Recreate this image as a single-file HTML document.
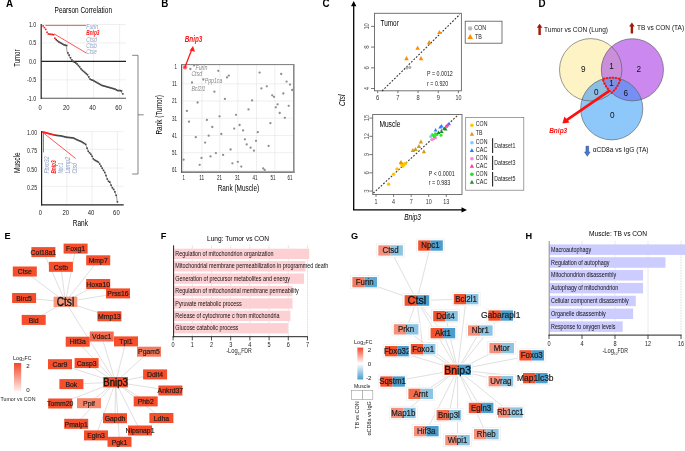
<!DOCTYPE html>
<html><head><meta charset="utf-8"><title>Figure</title><style>
html,body{margin:0;padding:0;background:#fff;width:685px;height:451px;overflow:hidden}
svg{display:block;font-family:"Liberation Sans",sans-serif;will-change:transform}
</style></head><body>
<svg width="685" height="451" viewBox="0 0 685 451">
<rect width="685" height="451" fill="#fff"/>
<text x="5.9" y="6.9" font-size="10.5" font-weight="bold" textLength="7.08" lengthAdjust="spacingAndGlyphs">A</text>
<text x="161.2" y="6.9" font-size="10.5" font-weight="bold" textLength="7.08" lengthAdjust="spacingAndGlyphs">B</text>
<text x="322.6" y="6.8" font-size="10.5" font-weight="bold" textLength="7.08" lengthAdjust="spacingAndGlyphs">C</text>
<text x="538.5" y="6.9" font-size="10.5" font-weight="bold" textLength="7.08" lengthAdjust="spacingAndGlyphs">D</text>
<text x="4.6" y="239" font-size="9.2" font-weight="bold">E</text>
<text x="160.8" y="239.1" font-size="9.2" font-weight="bold">F</text>
<text x="350.9" y="238.9" font-size="9.2" font-weight="bold">G</text>
<text x="525.6" y="238.9" font-size="9.2" font-weight="bold">H</text>
<text x="54.6" y="12.9" font-size="8.5" textLength="57.4" lengthAdjust="spacingAndGlyphs">Pearson Correlation</text>
<line x1="67.34" y1="24.5" x2="67.34" y2="98.3" stroke="#e4e4e4" stroke-width="0.6"/>
<line x1="93.48" y1="24.5" x2="93.48" y2="98.3" stroke="#e4e4e4" stroke-width="0.6"/>
<line x1="119.62" y1="24.5" x2="119.62" y2="98.3" stroke="#e4e4e4" stroke-width="0.6"/>
<line x1="41.2" y1="24.5" x2="126" y2="24.5" stroke="#e4e4e4" stroke-width="0.6"/>
<line x1="41.2" y1="42.95" x2="126" y2="42.95" stroke="#e4e4e4" stroke-width="0.6"/>
<line x1="41.2" y1="79.85" x2="126" y2="79.85" stroke="#e4e4e4" stroke-width="0.6"/>
<line x1="41.2" y1="61.4" x2="126" y2="61.4" stroke="#222" stroke-width="1.2"/>
<line x1="41.2" y1="98.3" x2="126" y2="98.3" stroke="#555" stroke-width="1.1"/>
<line x1="41.2" y1="24.1" x2="41.2" y2="98.9" stroke="#222" stroke-width="1.2"/>
<text x="36.3" y="26.9" font-size="6.8" text-anchor="end" fill="#222" textLength="7.4" lengthAdjust="spacingAndGlyphs">1.0</text>
<text x="36.3" y="45.35" font-size="6.8" text-anchor="end" fill="#222" textLength="7.4" lengthAdjust="spacingAndGlyphs">0.5</text>
<text x="36.3" y="63.8" font-size="6.8" text-anchor="end" fill="#222" textLength="7.4" lengthAdjust="spacingAndGlyphs">0.0</text>
<text x="36.3" y="82.25" font-size="6.8" text-anchor="end" fill="#222" textLength="9.2" lengthAdjust="spacingAndGlyphs">-0.5</text>
<text x="36.3" y="100.7" font-size="6.8" text-anchor="end" fill="#222" textLength="9.2" lengthAdjust="spacingAndGlyphs">-1.0</text>
<text x="40.2" y="109.7" font-size="6.8" text-anchor="middle" fill="#222" textLength="3.2" lengthAdjust="spacingAndGlyphs">0</text>
<text x="66.34" y="109.7" font-size="6.8" text-anchor="middle" fill="#222" textLength="6.6" lengthAdjust="spacingAndGlyphs">20</text>
<text x="92.48" y="109.7" font-size="6.8" text-anchor="middle" fill="#222" textLength="6.6" lengthAdjust="spacingAndGlyphs">40</text>
<text x="118.62" y="109.7" font-size="6.8" text-anchor="middle" fill="#222" textLength="6.6" lengthAdjust="spacingAndGlyphs">60</text>
<text x="19.8" y="58.2" font-size="8.6" text-anchor="middle" textLength="17.2" lengthAdjust="spacingAndGlyphs" transform="rotate(-90 19.8 58.2)">Tumor</text>
<path d="M54.27 38.15L55.58 39.63L56.88 40.74L58.19 41.84L59.5 42.58L60.81 43.32L62.11 44.06L63.42 44.8L64.73 45.16L66.03 45.53L67.34 52.91L68.65 55.13L69.95 57.71L71.26 59.92L72.57 61.4L73.88 62.14L75.18 62.88L76.49 63.98L77.8 65.46L79.1 66.94L80.41 68.78L81.72 70.26L83.02 71.36L84.33 72.47L85.64 73.58L86.94 74.68L88.25 76.9L89.56 79.11L90.87 79.85L92.17 80.22L93.48 80.96L94.79 81.69L96.09 82.43L97.4 83.17L98.71 83.91L100.02 84.65L101.32 85.38L102.63 85.75L103.94 86.12L105.24 86.49L106.55 86.86L107.86 87.23L109.16 87.6L110.47 87.97L111.78 88.34L113.08 88.71L114.39 89.07L115.7 89.81L117.01 90.55L118.31 90.55L119.62 90.55L120.93 90.92L122.23 93.87" fill="none" stroke="#666" stroke-width="0.6"/>
<rect x="42.31" y="25.18" width="1.6" height="1.6" fill="#ff1a1a"/>
<rect x="43.61" y="26.8" width="1.6" height="1.6" fill="#ff1a1a"/>
<rect x="44.92" y="28.61" width="1.6" height="1.6" fill="#ff1a1a"/>
<rect x="46.23" y="31.45" width="1.6" height="1.6" fill="#ff1a1a"/>
<rect x="47.54" y="33.11" width="1.6" height="1.6" fill="#ff1a1a"/>
<rect x="48.84" y="33.48" width="1.6" height="1.6" fill="#ff1a1a"/>
<rect x="50.15" y="33.48" width="1.6" height="1.6" fill="#ff1a1a"/>
<rect x="51.46" y="33.66" width="1.6" height="1.6" fill="#ff1a1a"/>
<rect x="52.76" y="34.03" width="1.6" height="1.6" fill="#ff1a1a"/>
<rect x="54.07" y="37.35" width="1.6" height="1.6" fill="#ff1a1a"/>
<rect x="55.38" y="38.83" width="1.6" height="1.6" fill="#444"/>
<rect x="56.68" y="39.94" width="1.6" height="1.6" fill="#444"/>
<rect x="57.99" y="41.04" width="1.6" height="1.6" fill="#444"/>
<rect x="59.3" y="41.78" width="1.6" height="1.6" fill="#444"/>
<rect x="60.61" y="42.52" width="1.6" height="1.6" fill="#444"/>
<rect x="61.91" y="43.26" width="1.6" height="1.6" fill="#444"/>
<rect x="63.22" y="44" width="1.6" height="1.6" fill="#444"/>
<rect x="64.53" y="44.36" width="1.6" height="1.6" fill="#444"/>
<rect x="65.83" y="44.73" width="1.6" height="1.6" fill="#444"/>
<rect x="67.14" y="52.11" width="1.6" height="1.6" fill="#444"/>
<rect x="68.45" y="54.33" width="1.6" height="1.6" fill="#444"/>
<rect x="69.75" y="56.91" width="1.6" height="1.6" fill="#444"/>
<rect x="71.06" y="59.12" width="1.6" height="1.6" fill="#444"/>
<rect x="72.37" y="60.6" width="1.6" height="1.6" fill="#444"/>
<rect x="73.67" y="61.34" width="1.6" height="1.6" fill="#444"/>
<rect x="74.98" y="62.08" width="1.6" height="1.6" fill="#444"/>
<rect x="76.29" y="63.18" width="1.6" height="1.6" fill="#444"/>
<rect x="77.6" y="64.66" width="1.6" height="1.6" fill="#444"/>
<rect x="78.9" y="66.14" width="1.6" height="1.6" fill="#444"/>
<rect x="80.21" y="67.98" width="1.6" height="1.6" fill="#444"/>
<rect x="81.52" y="69.46" width="1.6" height="1.6" fill="#444"/>
<rect x="82.82" y="70.56" width="1.6" height="1.6" fill="#444"/>
<rect x="84.13" y="71.67" width="1.6" height="1.6" fill="#444"/>
<rect x="85.44" y="72.78" width="1.6" height="1.6" fill="#444"/>
<rect x="86.74" y="73.88" width="1.6" height="1.6" fill="#444"/>
<rect x="88.05" y="76.1" width="1.6" height="1.6" fill="#444"/>
<rect x="89.36" y="78.31" width="1.6" height="1.6" fill="#444"/>
<rect x="90.67" y="79.05" width="1.6" height="1.6" fill="#444"/>
<rect x="91.97" y="79.42" width="1.6" height="1.6" fill="#444"/>
<rect x="93.28" y="80.16" width="1.6" height="1.6" fill="#444"/>
<rect x="94.59" y="80.89" width="1.6" height="1.6" fill="#444"/>
<rect x="95.89" y="81.63" width="1.6" height="1.6" fill="#444"/>
<rect x="97.2" y="82.37" width="1.6" height="1.6" fill="#444"/>
<rect x="98.51" y="83.11" width="1.6" height="1.6" fill="#444"/>
<rect x="99.81" y="83.85" width="1.6" height="1.6" fill="#444"/>
<rect x="101.12" y="84.58" width="1.6" height="1.6" fill="#444"/>
<rect x="102.43" y="84.95" width="1.6" height="1.6" fill="#444"/>
<rect x="103.74" y="85.32" width="1.6" height="1.6" fill="#444"/>
<rect x="105.04" y="85.69" width="1.6" height="1.6" fill="#444"/>
<rect x="106.35" y="86.06" width="1.6" height="1.6" fill="#444"/>
<rect x="107.66" y="86.43" width="1.6" height="1.6" fill="#444"/>
<rect x="108.96" y="86.8" width="1.6" height="1.6" fill="#444"/>
<rect x="110.27" y="87.17" width="1.6" height="1.6" fill="#444"/>
<rect x="111.58" y="87.54" width="1.6" height="1.6" fill="#444"/>
<rect x="112.88" y="87.91" width="1.6" height="1.6" fill="#444"/>
<rect x="114.19" y="88.27" width="1.6" height="1.6" fill="#444"/>
<rect x="115.5" y="89.01" width="1.6" height="1.6" fill="#444"/>
<rect x="116.81" y="89.75" width="1.6" height="1.6" fill="#444"/>
<rect x="118.11" y="89.75" width="1.6" height="1.6" fill="#444"/>
<rect x="119.42" y="89.75" width="1.6" height="1.6" fill="#444"/>
<rect x="120.73" y="90.12" width="1.6" height="1.6" fill="#444"/>
<rect x="122.03" y="93.07" width="1.6" height="1.6" fill="#444"/>
<line x1="45.4" y1="25.4" x2="86.3" y2="25.4" stroke="#ff2a2a" stroke-width="0.8"/>
<line x1="54" y1="33.8" x2="86.3" y2="53" stroke="#ff2a2a" stroke-width="0.8"/>
<text x="86.3" y="29.3" font-size="7" fill="#8da0c8" font-style="italic" textLength="11.7" lengthAdjust="spacingAndGlyphs">Furin</text>
<text x="86.3" y="35.4" font-size="7" fill="#ff1a1a" font-weight="bold" font-style="italic" textLength="13.1" lengthAdjust="spacingAndGlyphs">Bnip3</text>
<text x="86.3" y="41.5" font-size="7" fill="#8da0c8" font-style="italic" textLength="10.4" lengthAdjust="spacingAndGlyphs">Ctsd</text>
<text x="86.3" y="47.6" font-size="7" fill="#8da0c8" font-style="italic" textLength="10.4" lengthAdjust="spacingAndGlyphs">Ctsb</text>
<text x="86.3" y="53.8" font-size="7" fill="#8da0c8" font-style="italic" textLength="10.4" lengthAdjust="spacingAndGlyphs">Ctse</text>
<line x1="66.74" y1="131.7" x2="66.74" y2="204.8" stroke="#e4e4e4" stroke-width="0.6"/>
<line x1="92.08" y1="131.7" x2="92.08" y2="204.8" stroke="#e4e4e4" stroke-width="0.6"/>
<line x1="117.42" y1="131.7" x2="117.42" y2="204.8" stroke="#e4e4e4" stroke-width="0.6"/>
<line x1="41.4" y1="131.7" x2="123.7" y2="131.7" stroke="#e4e4e4" stroke-width="0.6"/>
<line x1="41.4" y1="149.3" x2="123.7" y2="149.3" stroke="#e4e4e4" stroke-width="0.6"/>
<line x1="41.4" y1="168" x2="123.7" y2="168" stroke="#e4e4e4" stroke-width="0.6"/>
<line x1="41.4" y1="186.3" x2="123.7" y2="186.3" stroke="#e4e4e4" stroke-width="0.6"/>
<line x1="41.4" y1="204.8" x2="123.7" y2="204.8" stroke="#222" stroke-width="1.2"/>
<line x1="41.6" y1="131.1" x2="41.6" y2="205.4" stroke="#222" stroke-width="1.2"/>
<text x="37" y="135.4" font-size="6.8" text-anchor="end" fill="#222" textLength="10" lengthAdjust="spacingAndGlyphs">1.00</text>
<text x="37" y="153" font-size="6.8" text-anchor="end" fill="#222" textLength="10" lengthAdjust="spacingAndGlyphs">0.75</text>
<text x="37" y="171.7" font-size="6.8" text-anchor="end" fill="#222" textLength="10" lengthAdjust="spacingAndGlyphs">0.50</text>
<text x="37" y="190" font-size="6.8" text-anchor="end" fill="#222" textLength="10" lengthAdjust="spacingAndGlyphs">0.25</text>
<text x="40.4" y="215.2" font-size="6.8" text-anchor="middle" fill="#222" textLength="3.2" lengthAdjust="spacingAndGlyphs">0</text>
<text x="65.74" y="215.2" font-size="6.8" text-anchor="middle" fill="#222" textLength="6.6" lengthAdjust="spacingAndGlyphs">20</text>
<text x="91.08" y="215.2" font-size="6.8" text-anchor="middle" fill="#222" textLength="6.6" lengthAdjust="spacingAndGlyphs">40</text>
<text x="116.42" y="215.2" font-size="6.8" text-anchor="middle" fill="#222" textLength="6.6" lengthAdjust="spacingAndGlyphs">60</text>
<text x="80.4" y="225.6" font-size="8.3" text-anchor="middle" textLength="15.2" lengthAdjust="spacingAndGlyphs">Rank</text>
<text x="19.8" y="162.7" font-size="8.6" text-anchor="middle" textLength="20.8" lengthAdjust="spacingAndGlyphs" transform="rotate(-90 19.8 162.7)">Muscle</text>
<path d="M54.07 134.93L55.34 135.26L56.6 135.41L57.87 135.54L59.14 135.66L60.41 135.79L61.67 136.08L62.94 136.38L64.21 136.68L65.47 136.98L66.74 137.29L68.01 137.41L69.27 137.53L70.54 137.65L71.81 137.77L73.07 137.89L74.34 138.47L75.61 139.1L76.88 139.74L78.14 140.3L79.41 140.81L80.68 141.33L81.94 141.92L83.21 142.72L84.48 143.53L85.75 144.43L87.01 148.18L88.28 151.25L89.55 152.77L90.81 154.28L92.08 156.29L93.35 158.88L94.61 159.98L95.88 160.7L97.15 161.42L98.41 162.14L99.68 163.98L100.95 166.14L102.22 168.22L103.48 170.33L104.75 172.5L106.02 175.6L107.28 179.05L108.55 181.35L109.82 182.16L111.08 185.18L112.35 187.76L113.62 189.37L114.89 191.88L116.15 195.33L117.42 201.9" fill="none" stroke="#666" stroke-width="0.6"/>
<path d="M42.67 132L43.93 132.32L45.2 132.64L46.47 132.97L47.73 133.3L49 133.62L50.27 133.95L51.54 134.28L52.8 134.6L54.07 134.93" fill="none" stroke="#ff1a1a" stroke-width="1.2"/>
<rect x="41.87" y="131.2" width="1.6" height="1.6" fill="#ff1a1a"/>
<rect x="43.13" y="131.52" width="1.6" height="1.6" fill="#ff1a1a"/>
<rect x="44.4" y="131.84" width="1.6" height="1.6" fill="#ff1a1a"/>
<rect x="45.67" y="132.17" width="1.6" height="1.6" fill="#ff1a1a"/>
<rect x="46.94" y="132.5" width="1.6" height="1.6" fill="#ff1a1a"/>
<rect x="48.2" y="132.82" width="1.6" height="1.6" fill="#ff1a1a"/>
<rect x="49.47" y="133.15" width="1.6" height="1.6" fill="#ff1a1a"/>
<rect x="50.74" y="133.48" width="1.6" height="1.6" fill="#ff1a1a"/>
<rect x="52" y="133.8" width="1.6" height="1.6" fill="#ff1a1a"/>
<rect x="53.27" y="134.13" width="1.6" height="1.6" fill="#ff1a1a"/>
<rect x="54.54" y="134.46" width="1.6" height="1.6" fill="#444"/>
<rect x="55.8" y="134.61" width="1.6" height="1.6" fill="#444"/>
<rect x="57.07" y="134.74" width="1.6" height="1.6" fill="#444"/>
<rect x="58.34" y="134.86" width="1.6" height="1.6" fill="#444"/>
<rect x="59.61" y="134.99" width="1.6" height="1.6" fill="#444"/>
<rect x="60.87" y="135.28" width="1.6" height="1.6" fill="#444"/>
<rect x="62.14" y="135.58" width="1.6" height="1.6" fill="#444"/>
<rect x="63.41" y="135.88" width="1.6" height="1.6" fill="#444"/>
<rect x="64.67" y="136.18" width="1.6" height="1.6" fill="#444"/>
<rect x="65.94" y="136.49" width="1.6" height="1.6" fill="#444"/>
<rect x="67.21" y="136.61" width="1.6" height="1.6" fill="#444"/>
<rect x="68.47" y="136.73" width="1.6" height="1.6" fill="#444"/>
<rect x="69.74" y="136.85" width="1.6" height="1.6" fill="#444"/>
<rect x="71.01" y="136.97" width="1.6" height="1.6" fill="#444"/>
<rect x="72.27" y="137.09" width="1.6" height="1.6" fill="#444"/>
<rect x="73.54" y="137.67" width="1.6" height="1.6" fill="#444"/>
<rect x="74.81" y="138.3" width="1.6" height="1.6" fill="#444"/>
<rect x="76.08" y="138.94" width="1.6" height="1.6" fill="#444"/>
<rect x="77.34" y="139.5" width="1.6" height="1.6" fill="#444"/>
<rect x="78.61" y="140.01" width="1.6" height="1.6" fill="#444"/>
<rect x="79.88" y="140.53" width="1.6" height="1.6" fill="#444"/>
<rect x="81.14" y="141.12" width="1.6" height="1.6" fill="#444"/>
<rect x="82.41" y="141.92" width="1.6" height="1.6" fill="#444"/>
<rect x="83.68" y="142.73" width="1.6" height="1.6" fill="#444"/>
<rect x="84.95" y="143.63" width="1.6" height="1.6" fill="#444"/>
<rect x="86.21" y="147.38" width="1.6" height="1.6" fill="#444"/>
<rect x="87.48" y="150.45" width="1.6" height="1.6" fill="#444"/>
<rect x="88.75" y="151.97" width="1.6" height="1.6" fill="#444"/>
<rect x="90.01" y="153.48" width="1.6" height="1.6" fill="#444"/>
<rect x="91.28" y="155.49" width="1.6" height="1.6" fill="#444"/>
<rect x="92.55" y="158.08" width="1.6" height="1.6" fill="#444"/>
<rect x="93.81" y="159.18" width="1.6" height="1.6" fill="#444"/>
<rect x="95.08" y="159.9" width="1.6" height="1.6" fill="#444"/>
<rect x="96.35" y="160.62" width="1.6" height="1.6" fill="#444"/>
<rect x="97.61" y="161.34" width="1.6" height="1.6" fill="#444"/>
<rect x="98.88" y="163.18" width="1.6" height="1.6" fill="#444"/>
<rect x="100.15" y="165.34" width="1.6" height="1.6" fill="#444"/>
<rect x="101.42" y="167.42" width="1.6" height="1.6" fill="#444"/>
<rect x="102.68" y="169.53" width="1.6" height="1.6" fill="#444"/>
<rect x="103.95" y="171.7" width="1.6" height="1.6" fill="#444"/>
<rect x="105.22" y="174.8" width="1.6" height="1.6" fill="#444"/>
<rect x="106.48" y="178.25" width="1.6" height="1.6" fill="#444"/>
<rect x="107.75" y="180.55" width="1.6" height="1.6" fill="#444"/>
<rect x="109.02" y="181.36" width="1.6" height="1.6" fill="#444"/>
<rect x="110.28" y="184.38" width="1.6" height="1.6" fill="#444"/>
<rect x="111.55" y="186.96" width="1.6" height="1.6" fill="#444"/>
<rect x="112.82" y="188.57" width="1.6" height="1.6" fill="#444"/>
<rect x="114.09" y="191.08" width="1.6" height="1.6" fill="#444"/>
<rect x="115.35" y="194.53" width="1.6" height="1.6" fill="#444"/>
<rect x="116.62" y="201.1" width="1.6" height="1.6" fill="#444"/>
<line x1="43.5" y1="133" x2="43.5" y2="152.4" stroke="#ff2a2a" stroke-width="0.8"/>
<line x1="43" y1="132.6" x2="75.7" y2="158.5" stroke="#ff2a2a" stroke-width="0.8"/>
<text x="48.9" y="173.6" font-size="7" fill="#8da0c8" font-style="italic" textLength="17.2" lengthAdjust="spacingAndGlyphs" transform="rotate(-90 48.9 173.6)">Fbxo32</text>
<text x="55.8" y="173.6" font-size="7" fill="#ff1a1a" font-weight="bold" font-style="italic" textLength="13.3" lengthAdjust="spacingAndGlyphs" transform="rotate(-90 55.8 173.6)">Bnip3</text>
<text x="63" y="173.6" font-size="7" fill="#8da0c8" font-style="italic" textLength="11.1" lengthAdjust="spacingAndGlyphs" transform="rotate(-90 63 173.6)">Npc1</text>
<text x="70.3" y="173.6" font-size="7" fill="#8da0c8" font-style="italic" textLength="16.6" lengthAdjust="spacingAndGlyphs" transform="rotate(-90 70.3 173.6)">Lamp2</text>
<text x="77" y="173.6" font-size="7" fill="#8da0c8" font-style="italic" textLength="10.5" lengthAdjust="spacingAndGlyphs" transform="rotate(-90 77 173.6)">Ctsd</text>
<path d="M132.2 55.3H138V174H132.2M138 114.8H143.7" fill="none" stroke="#666" stroke-width="0.8"/>
<text x="162.4" y="114.8" font-size="8.2" text-anchor="middle" textLength="39.6" lengthAdjust="spacingAndGlyphs" transform="rotate(-90 162.4 114.8)">Rank (Tumor)</text>
<line x1="202" y1="64.5" x2="202" y2="171.7" stroke="#e4e4e4" stroke-width="0.6"/>
<line x1="219.8" y1="64.5" x2="219.8" y2="171.7" stroke="#e4e4e4" stroke-width="0.6"/>
<line x1="237.8" y1="64.5" x2="237.8" y2="171.7" stroke="#e4e4e4" stroke-width="0.6"/>
<line x1="256.5" y1="64.5" x2="256.5" y2="171.7" stroke="#e4e4e4" stroke-width="0.6"/>
<line x1="274.9" y1="64.5" x2="274.9" y2="171.7" stroke="#e4e4e4" stroke-width="0.6"/>
<line x1="181.5" y1="83.82" x2="294.3" y2="83.82" stroke="#e4e4e4" stroke-width="0.6"/>
<line x1="181.5" y1="101.04" x2="294.3" y2="101.04" stroke="#e4e4e4" stroke-width="0.6"/>
<line x1="181.5" y1="118.26" x2="294.3" y2="118.26" stroke="#e4e4e4" stroke-width="0.6"/>
<line x1="181.5" y1="135.48" x2="294.3" y2="135.48" stroke="#e4e4e4" stroke-width="0.6"/>
<line x1="181.5" y1="152.7" x2="294.3" y2="152.7" stroke="#e4e4e4" stroke-width="0.6"/>
<line x1="183.5" y1="64.5" x2="183.5" y2="171.7" stroke="#f0f0f0" stroke-width="0.8"/>
<line x1="181.5" y1="170.6" x2="294.3" y2="170.6" stroke="#f0f0f0" stroke-width="0.8"/>
<line x1="181.5" y1="64.6" x2="294.2" y2="64.6" stroke="#6a6a6a" stroke-width="0.9"/>
<line x1="181.6" y1="64.2" x2="181.6" y2="172.8" stroke="#606060" stroke-width="1.2"/>
<line x1="181" y1="172.2" x2="294.6" y2="172.2" stroke="#555" stroke-width="1.3"/>
<line x1="293.8" y1="64.2" x2="293.8" y2="172.8" stroke="#8a8a8a" stroke-width="1.6"/>
<text x="183.8" y="179.8" font-size="6.6" text-anchor="middle" fill="#222" textLength="2.4" lengthAdjust="spacingAndGlyphs">1</text>
<text x="177" y="68.9" font-size="6.6" text-anchor="end" fill="#222" textLength="2.4" lengthAdjust="spacingAndGlyphs">1</text>
<text x="201.7" y="179.8" font-size="6.6" text-anchor="middle" fill="#222" textLength="5" lengthAdjust="spacingAndGlyphs">11</text>
<text x="177" y="86.12" font-size="6.6" text-anchor="end" fill="#222" textLength="5" lengthAdjust="spacingAndGlyphs">11</text>
<text x="219.5" y="179.8" font-size="6.6" text-anchor="middle" fill="#222" textLength="5" lengthAdjust="spacingAndGlyphs">21</text>
<text x="177" y="103.34" font-size="6.6" text-anchor="end" fill="#222" textLength="5" lengthAdjust="spacingAndGlyphs">21</text>
<text x="237.6" y="179.8" font-size="6.6" text-anchor="middle" fill="#222" textLength="5" lengthAdjust="spacingAndGlyphs">31</text>
<text x="177" y="120.56" font-size="6.6" text-anchor="end" fill="#222" textLength="5" lengthAdjust="spacingAndGlyphs">31</text>
<text x="255.1" y="179.8" font-size="6.6" text-anchor="middle" fill="#222" textLength="5" lengthAdjust="spacingAndGlyphs">41</text>
<text x="177" y="137.78" font-size="6.6" text-anchor="end" fill="#222" textLength="5" lengthAdjust="spacingAndGlyphs">41</text>
<text x="273.1" y="179.8" font-size="6.6" text-anchor="middle" fill="#222" textLength="5" lengthAdjust="spacingAndGlyphs">51</text>
<text x="177" y="155" font-size="6.6" text-anchor="end" fill="#222" textLength="5" lengthAdjust="spacingAndGlyphs">51</text>
<text x="290.1" y="179.8" font-size="6.6" text-anchor="middle" fill="#222" textLength="5" lengthAdjust="spacingAndGlyphs">61</text>
<text x="177" y="172.22" font-size="6.6" text-anchor="end" fill="#222" textLength="5" lengthAdjust="spacingAndGlyphs">61</text>
<text x="238.4" y="190.6" font-size="8.2" text-anchor="middle" textLength="41.5" lengthAdjust="spacingAndGlyphs">Rank (Muscle)</text>
<circle cx="190.4" cy="69" r="1.15" fill="#8e8e8e"/>
<circle cx="194" cy="65.4" r="1.15" fill="#8e8e8e"/>
<circle cx="192" cy="82.5" r="1.15" fill="#8e8e8e"/>
<circle cx="203.3" cy="79.5" r="1.15" fill="#8e8e8e"/>
<circle cx="218.3" cy="70.8" r="1.15" fill="#8e8e8e"/>
<circle cx="227" cy="77.4" r="1.15" fill="#8e8e8e"/>
<circle cx="228.8" cy="75.6" r="1.15" fill="#8e8e8e"/>
<circle cx="259.6" cy="72.6" r="1.15" fill="#8e8e8e"/>
<circle cx="281.2" cy="74" r="1.15" fill="#8e8e8e"/>
<circle cx="286.6" cy="81.6" r="1.15" fill="#8e8e8e"/>
<circle cx="290" cy="84.6" r="1.15" fill="#8e8e8e"/>
<circle cx="292.2" cy="90" r="1.15" fill="#8e8e8e"/>
<circle cx="261.4" cy="88.4" r="1.15" fill="#8e8e8e"/>
<circle cx="266.8" cy="86.3" r="1.15" fill="#8e8e8e"/>
<circle cx="214.4" cy="91.7" r="1.15" fill="#8e8e8e"/>
<circle cx="283.3" cy="93.5" r="1.15" fill="#8e8e8e"/>
<circle cx="272.2" cy="95.3" r="1.15" fill="#8e8e8e"/>
<circle cx="274" cy="96.8" r="1.15" fill="#8e8e8e"/>
<circle cx="224.9" cy="98.9" r="1.15" fill="#8e8e8e"/>
<circle cx="252.1" cy="100.4" r="1.15" fill="#8e8e8e"/>
<circle cx="197.6" cy="102.5" r="1.15" fill="#8e8e8e"/>
<circle cx="277.6" cy="104.3" r="1.15" fill="#8e8e8e"/>
<circle cx="275.8" cy="107.3" r="1.15" fill="#8e8e8e"/>
<circle cx="288.7" cy="105.8" r="1.15" fill="#8e8e8e"/>
<circle cx="248.5" cy="109.4" r="1.15" fill="#8e8e8e"/>
<circle cx="186.9" cy="110.9" r="1.15" fill="#8e8e8e"/>
<circle cx="279.7" cy="113" r="1.15" fill="#8e8e8e"/>
<circle cx="236" cy="114.8" r="1.15" fill="#8e8e8e"/>
<circle cx="219.5" cy="116.3" r="1.15" fill="#8e8e8e"/>
<circle cx="284.8" cy="117.8" r="1.15" fill="#8e8e8e"/>
<circle cx="189" cy="121.7" r="1.15" fill="#8e8e8e"/>
<circle cx="206.9" cy="119.9" r="1.15" fill="#8e8e8e"/>
<circle cx="270.4" cy="123.2" r="1.15" fill="#8e8e8e"/>
<circle cx="239.6" cy="125" r="1.15" fill="#8e8e8e"/>
<circle cx="212.3" cy="127" r="1.15" fill="#8e8e8e"/>
<circle cx="234.2" cy="128.6" r="1.15" fill="#8e8e8e"/>
<circle cx="243.1" cy="130.4" r="1.15" fill="#8e8e8e"/>
<circle cx="221.3" cy="134" r="1.15" fill="#8e8e8e"/>
<circle cx="257.8" cy="132.2" r="1.15" fill="#8e8e8e"/>
<circle cx="208.7" cy="135.7" r="1.15" fill="#8e8e8e"/>
<circle cx="195.8" cy="137.2" r="1.15" fill="#8e8e8e"/>
<circle cx="244.9" cy="139.3" r="1.15" fill="#8e8e8e"/>
<circle cx="256" cy="140.8" r="1.15" fill="#8e8e8e"/>
<circle cx="205.1" cy="142.6" r="1.15" fill="#8e8e8e"/>
<circle cx="246.7" cy="144.4" r="1.15" fill="#8e8e8e"/>
<circle cx="268.6" cy="145.9" r="1.15" fill="#8e8e8e"/>
<circle cx="250.6" cy="147.7" r="1.15" fill="#8e8e8e"/>
<circle cx="253.9" cy="150.7" r="1.15" fill="#8e8e8e"/>
<circle cx="230.6" cy="149.5" r="1.15" fill="#8e8e8e"/>
<circle cx="215.9" cy="153.1" r="1.15" fill="#8e8e8e"/>
<circle cx="223.1" cy="154.9" r="1.15" fill="#8e8e8e"/>
<circle cx="201.5" cy="157.9" r="1.15" fill="#8e8e8e"/>
<circle cx="210.5" cy="156.4" r="1.15" fill="#8e8e8e"/>
<circle cx="183.6" cy="159.7" r="1.15" fill="#8e8e8e"/>
<circle cx="237.8" cy="161.8" r="1.15" fill="#8e8e8e"/>
<circle cx="232.4" cy="163.3" r="1.15" fill="#8e8e8e"/>
<circle cx="199.7" cy="164.8" r="1.15" fill="#8e8e8e"/>
<circle cx="241.3" cy="166.6" r="1.15" fill="#8e8e8e"/>
<circle cx="263.2" cy="168.4" r="1.15" fill="#8e8e8e"/>
<circle cx="264.7" cy="169.9" r="1.15" fill="#8e8e8e"/>
<circle cx="185" cy="67.3" r="2.4" fill="#ff9090"/>
<circle cx="185" cy="67.3" r="1.3" fill="#ff3030"/>
<text x="195.6" y="70.4" font-size="6.3" fill="#888" font-style="italic" textLength="11.77" lengthAdjust="spacingAndGlyphs">Furin</text>
<text x="191.4" y="76" font-size="6.3" fill="#888" font-style="italic" textLength="10.62" lengthAdjust="spacingAndGlyphs">Ctsd</text>
<text x="204.8" y="83.2" font-size="6.3" fill="#888" font-style="italic" textLength="17.52" lengthAdjust="spacingAndGlyphs">Ppp1ca</text>
<text x="191.4" y="91.2" font-size="6.3" fill="#888" font-style="italic" textLength="14.07" lengthAdjust="spacingAndGlyphs">Bcl2l1</text>
<line x1="185.2" y1="66.6" x2="191.4" y2="50.6" stroke="#ff1a1a" stroke-width="1.3"/>
<path d="M193.0 46.0L195.0 51.8L189.6 50.6Z" fill="#ff1a1a"/>
<text x="193.5" y="41.8" font-size="8.2" text-anchor="middle" fill="#ff1a1a" font-weight="bold" font-style="italic" textLength="17.7" lengthAdjust="spacingAndGlyphs">Bnip3</text>
<line x1="353.7" y1="5" x2="353.7" y2="209.9" stroke="#000" stroke-width="1.3"/>
<path d="M353.7 0.9L356.4 6.2L351.0 6.2Z" fill="#000"/>
<line x1="353" y1="209.9" x2="462" y2="209.9" stroke="#000" stroke-width="1.3"/>
<path d="M467.0 209.9L461.5 207.2L461.5 212.6Z" fill="#000"/>
<text x="344.6" y="100.3" font-size="8.3" text-anchor="middle" font-style="italic" textLength="11.5" lengthAdjust="spacingAndGlyphs" transform="rotate(-90 344.6 100.3)">Ctsl</text>
<text x="412.6" y="220.4" font-size="8.3" text-anchor="middle" font-style="italic" textLength="16.8" lengthAdjust="spacingAndGlyphs">Bnip3</text>
<rect x="374.5" y="13.3" width="86.9" height="77.5" fill="none" stroke="#666" stroke-width="0.9"/>
<line x1="371" y1="88.5" x2="374.5" y2="88.5" stroke="#555" stroke-width="0.8"/>
<text x="368.6" y="88.5" font-size="7" text-anchor="middle" fill="#555" textLength="3.4" lengthAdjust="spacingAndGlyphs" transform="rotate(-90 368.6 88.5)">4</text>
<line x1="371" y1="67.8" x2="374.5" y2="67.8" stroke="#555" stroke-width="0.8"/>
<text x="368.6" y="67.8" font-size="7" text-anchor="middle" fill="#555" textLength="3.4" lengthAdjust="spacingAndGlyphs" transform="rotate(-90 368.6 67.8)">6</text>
<line x1="371" y1="47.1" x2="374.5" y2="47.1" stroke="#555" stroke-width="0.8"/>
<text x="368.6" y="47.1" font-size="7" text-anchor="middle" fill="#555" textLength="3.4" lengthAdjust="spacingAndGlyphs" transform="rotate(-90 368.6 47.1)">8</text>
<line x1="371" y1="26.4" x2="374.5" y2="26.4" stroke="#555" stroke-width="0.8"/>
<text x="368.6" y="26.4" font-size="7" text-anchor="middle" fill="#555" textLength="6.4" lengthAdjust="spacingAndGlyphs" transform="rotate(-90 368.6 26.4)">10</text>
<line x1="377.7" y1="90.8" x2="377.7" y2="93.2" stroke="#555" stroke-width="0.8"/>
<text x="377.7" y="100.3" font-size="6.4" text-anchor="middle" fill="#333" textLength="3.2" lengthAdjust="spacingAndGlyphs">6</text>
<line x1="397.88" y1="90.8" x2="397.88" y2="93.2" stroke="#555" stroke-width="0.8"/>
<text x="397.88" y="100.3" font-size="6.4" text-anchor="middle" fill="#333" textLength="3.2" lengthAdjust="spacingAndGlyphs">7</text>
<line x1="418.06" y1="90.8" x2="418.06" y2="93.2" stroke="#555" stroke-width="0.8"/>
<text x="418.06" y="100.3" font-size="6.4" text-anchor="middle" fill="#333" textLength="3.2" lengthAdjust="spacingAndGlyphs">8</text>
<line x1="438.24" y1="90.8" x2="438.24" y2="93.2" stroke="#555" stroke-width="0.8"/>
<text x="438.24" y="100.3" font-size="6.4" text-anchor="middle" fill="#333" textLength="3.2" lengthAdjust="spacingAndGlyphs">9</text>
<line x1="458.42" y1="90.8" x2="458.42" y2="93.2" stroke="#555" stroke-width="0.8"/>
<text x="458.42" y="100.3" font-size="6.4" text-anchor="middle" fill="#333" textLength="6" lengthAdjust="spacingAndGlyphs">10</text>
<text x="380.6" y="26.2" font-size="8.3" textLength="18.2" lengthAdjust="spacingAndGlyphs">Tumor</text>
<line x1="382.1" y1="91" x2="459.8" y2="14.4" stroke="#333" stroke-width="1.1" stroke-dasharray="1.8 1.6"/>
<circle cx="406.8" cy="68" r="1.6" fill="#b0b0b0"/>
<circle cx="409.8" cy="67.4" r="1.6" fill="#b0b0b0"/>
<path d="M406.5 56.12L408.8 60.26L404.2 60.26Z" fill="#ff8c00"/>
<path d="M417.6 45.72L419.9 49.86L415.3 49.86Z" fill="#ff8c00"/>
<path d="M421 56.12L423.3 60.26L418.7 60.26Z" fill="#ff8c00"/>
<path d="M429.2 40.12L431.5 44.26L426.9 44.26Z" fill="#ff8c00"/>
<path d="M439.4 29.92L441.7 34.06L437.1 34.06Z" fill="#ff8c00"/>
<text x="427.1" y="76" font-size="6.8" fill="#222" textLength="25.7" lengthAdjust="spacingAndGlyphs">P = 0.0012</text>
<text x="427.1" y="85.8" font-size="6.8" fill="#222" textLength="21.2" lengthAdjust="spacingAndGlyphs">r = 0.920</text>
<rect x="465.2" y="21.2" width="36.8" height="22" fill="none" stroke="#555" stroke-width="0.8"/>
<circle cx="470.1" cy="28.4" r="2.2" fill="#bbbbbb"/>
<text x="474.2" y="29.6" font-size="6.8" fill="#222" textLength="12" lengthAdjust="spacingAndGlyphs">CON</text>
<path d="M470.2 33.98L473 39.02L467.4 39.02Z" fill="#ff8c00"/>
<text x="474.9" y="38.9" font-size="6.8" fill="#222" textLength="6.9" lengthAdjust="spacingAndGlyphs">TB</text>
<rect x="372.7" y="114.5" width="89.3" height="80" fill="none" stroke="#666" stroke-width="0.9"/>
<line x1="369.3" y1="191.06" x2="372.7" y2="191.06" stroke="#555" stroke-width="0.8"/>
<text x="368.6" y="191.06" font-size="7" text-anchor="middle" fill="#555" textLength="3.4" lengthAdjust="spacingAndGlyphs" transform="rotate(-90 368.6 191.06)">3</text>
<line x1="369.3" y1="172.82" x2="372.7" y2="172.82" stroke="#555" stroke-width="0.8"/>
<text x="368.6" y="172.82" font-size="7" text-anchor="middle" fill="#555" textLength="3.4" lengthAdjust="spacingAndGlyphs" transform="rotate(-90 368.6 172.82)">6</text>
<line x1="369.3" y1="154.58" x2="372.7" y2="154.58" stroke="#555" stroke-width="0.8"/>
<text x="368.6" y="154.58" font-size="7" text-anchor="middle" fill="#555" textLength="3.4" lengthAdjust="spacingAndGlyphs" transform="rotate(-90 368.6 154.58)">9</text>
<line x1="369.3" y1="136.34" x2="372.7" y2="136.34" stroke="#555" stroke-width="0.8"/>
<text x="368.6" y="136.34" font-size="7" text-anchor="middle" fill="#555" textLength="6.4" lengthAdjust="spacingAndGlyphs" transform="rotate(-90 368.6 136.34)">12</text>
<line x1="369.3" y1="118.1" x2="372.7" y2="118.1" stroke="#555" stroke-width="0.8"/>
<text x="368.6" y="118.1" font-size="7" text-anchor="middle" fill="#555" textLength="6.4" lengthAdjust="spacingAndGlyphs" transform="rotate(-90 368.6 118.1)">15</text>
<line x1="376" y1="194.5" x2="376" y2="196.9" stroke="#555" stroke-width="0.8"/>
<text x="376" y="203.6" font-size="6.4" text-anchor="middle" fill="#333" textLength="3" lengthAdjust="spacingAndGlyphs">1</text>
<line x1="393.58" y1="194.5" x2="393.58" y2="196.9" stroke="#555" stroke-width="0.8"/>
<text x="393.58" y="203.6" font-size="6.4" text-anchor="middle" fill="#333" textLength="3" lengthAdjust="spacingAndGlyphs">4</text>
<line x1="411.16" y1="194.5" x2="411.16" y2="196.9" stroke="#555" stroke-width="0.8"/>
<text x="411.16" y="203.6" font-size="6.4" text-anchor="middle" fill="#333" textLength="3" lengthAdjust="spacingAndGlyphs">7</text>
<line x1="428.74" y1="194.5" x2="428.74" y2="196.9" stroke="#555" stroke-width="0.8"/>
<text x="428.74" y="203.6" font-size="6.4" text-anchor="middle" fill="#333" textLength="6" lengthAdjust="spacingAndGlyphs">10</text>
<line x1="446.32" y1="194.5" x2="446.32" y2="196.9" stroke="#555" stroke-width="0.8"/>
<text x="446.32" y="203.6" font-size="6.4" text-anchor="middle" fill="#333" textLength="6" lengthAdjust="spacingAndGlyphs">13</text>
<text x="379.4" y="126.8" font-size="8.3" textLength="21" lengthAdjust="spacingAndGlyphs">Muscle</text>
<line x1="373.3" y1="193.2" x2="458.5" y2="114.6" stroke="#333" stroke-width="1.1" stroke-dasharray="1.8 1.6"/>
<circle cx="388.6" cy="184.2" r="1.7" fill="#ffc400"/>
<circle cx="393.6" cy="174.3" r="1.7" fill="#ffc400"/>
<circle cx="397" cy="168.9" r="1.7" fill="#ffc400"/>
<circle cx="401" cy="163.3" r="1.7" fill="#ffc400"/>
<circle cx="402" cy="165.5" r="1.7" fill="#ffc400"/>
<circle cx="404" cy="164.3" r="1.7" fill="#ffc400"/>
<circle cx="405.5" cy="163.5" r="1.7" fill="#ffc400"/>
<circle cx="403" cy="166" r="1.7" fill="#ffc400"/>
<path d="M401 160.12L403.2 164.08L398.8 164.08Z" fill="#d49a1c"/>
<path d="M412.9 148.12L415.1 152.08L410.7 152.08Z" fill="#d49a1c"/>
<path d="M415.5 146.92L417.7 150.88L413.3 150.88Z" fill="#d49a1c"/>
<path d="M418.9 144.12L421.1 148.08L416.7 148.08Z" fill="#d49a1c"/>
<path d="M420.9 139.52L423.1 143.48L418.7 143.48Z" fill="#d49a1c"/>
<path d="M423.9 149.22L426.1 153.18L421.7 153.18Z" fill="#d49a1c"/>
<circle cx="432" cy="139.6" r="1.5" fill="#ff80e0"/>
<circle cx="435.6" cy="137.6" r="1.5" fill="#ff80e0"/>
<circle cx="433.8" cy="138.8" r="1.5" fill="#ff80e0"/>
<circle cx="430.6" cy="136.4" r="1.5" fill="#7ec8f8"/>
<circle cx="432.2" cy="134.6" r="1.5" fill="#7ec8f8"/>
<circle cx="433" cy="135.2" r="1.5" fill="#22ee22"/>
<circle cx="435.4" cy="133.7" r="1.5" fill="#22ee22"/>
<circle cx="434.3" cy="136.4" r="1.5" fill="#22ee22"/>
<circle cx="441" cy="135.3" r="1.5" fill="#22ee22"/>
<circle cx="437" cy="134.4" r="1.5" fill="#22ee22"/>
<path d="M435.6 128.09L437.55 131.6L433.65 131.6Z" fill="#2a7fff"/>
<path d="M440.3 124.89L442.25 128.4L438.35 128.4Z" fill="#2a7fff"/>
<path d="M441.5 124.09L443.45 127.6L439.55 127.6Z" fill="#2a7fff"/>
<path d="M449 121.79L450.95 125.3L447.05 125.3Z" fill="#2a7fff"/>
<path d="M441.6 129.59L443.55 133.1L439.65 133.1Z" fill="#1f8a2a"/>
<path d="M444.3 126.59L446.25 130.1L442.35 130.1Z" fill="#1f8a2a"/>
<path d="M445.6 127.09L447.55 130.6L443.65 130.6Z" fill="#1f8a2a"/>
<path d="M438.5 130.39L440.45 133.9L436.55 133.9Z" fill="#1f8a2a"/>
<path d="M447.6 123.09L449.55 126.6L445.65 126.6Z" fill="#ff3c9c"/>
<path d="M446.3 124.29L448.25 127.8L444.35 127.8Z" fill="#ff3c9c"/>
<text x="428.7" y="176.3" font-size="6.8" fill="#222" textLength="26" lengthAdjust="spacingAndGlyphs">P &lt; 0.0001</text>
<text x="428.7" y="184.5" font-size="6.8" fill="#222" textLength="21.5" lengthAdjust="spacingAndGlyphs">r = 0.983</text>
<rect x="465.7" y="117.5" width="58.1" height="72.7" fill="none" stroke="#777" stroke-width="0.7"/>
<circle cx="471.9" cy="125.2" r="1.8" fill="#ffc400"/>
<text x="475.8" y="126.1" font-size="6.9" fill="#222" textLength="11.6" lengthAdjust="spacingAndGlyphs">CON</text>
<path d="M471.9 131.78L474.05 135.65L469.75 135.65Z" fill="#d49a1c"/>
<text x="475.8" y="135.2" font-size="6.9" fill="#222" textLength="6.6" lengthAdjust="spacingAndGlyphs">TB</text>
<circle cx="471.9" cy="142.7" r="1.8" fill="#80c8ff"/>
<text x="475.8" y="144.3" font-size="6.9" fill="#222" textLength="11.6" lengthAdjust="spacingAndGlyphs">CON</text>
<path d="M471.9 148.18L474.05 152.05L469.75 152.05Z" fill="#2080ff"/>
<text x="475.8" y="152.1" font-size="6.9" fill="#222" textLength="11.6" lengthAdjust="spacingAndGlyphs">CAC</text>
<circle cx="471.9" cy="158.7" r="1.8" fill="#ff80e0"/>
<text x="475.8" y="160.2" font-size="6.9" fill="#222" textLength="11.6" lengthAdjust="spacingAndGlyphs">CON</text>
<path d="M471.9 163.88L474.05 167.75L469.75 167.75Z" fill="#ff3399"/>
<text x="475.8" y="167.9" font-size="6.9" fill="#222" textLength="11.6" lengthAdjust="spacingAndGlyphs">CAC</text>
<circle cx="471.9" cy="174.2" r="1.8" fill="#22dd22"/>
<text x="475.8" y="176" font-size="6.9" fill="#222" textLength="11.6" lengthAdjust="spacingAndGlyphs">CON</text>
<path d="M471.9 179.98L474.05 183.85L469.75 183.85Z" fill="#228b22"/>
<text x="475.8" y="184.2" font-size="6.9" fill="#222" textLength="11.6" lengthAdjust="spacingAndGlyphs">CAC</text>
<line x1="492.6" y1="138.3" x2="492.6" y2="153" stroke="#222" stroke-width="1.1"/>
<text x="494.2" y="147.95" font-size="6.6" fill="#222" textLength="21.2" lengthAdjust="spacingAndGlyphs">Dataset1</text>
<line x1="492.6" y1="155.7" x2="492.6" y2="170" stroke="#222" stroke-width="1.1"/>
<text x="494.2" y="165.15" font-size="6.6" fill="#222" textLength="21.2" lengthAdjust="spacingAndGlyphs">Dataset3</text>
<line x1="492.6" y1="171.9" x2="492.6" y2="186.4" stroke="#222" stroke-width="1.1"/>
<text x="494.2" y="181.45" font-size="6.6" fill="#222" textLength="21.2" lengthAdjust="spacingAndGlyphs">Dataset5</text>
<defs><clipPath id="cY"><circle cx="590.7" cy="69.8" r="31.2"/></clipPath><clipPath id="cP"><circle cx="632.4" cy="69.8" r="31.1"/></clipPath><clipPath id="cB"><circle cx="611.7" cy="108.8" r="31.1"/></clipPath></defs>
<circle cx="590.7" cy="69.8" r="31.2" fill="#fdf3c4"/>
<circle cx="632.4" cy="69.8" r="31.1" fill="#cb88ee"/>
<circle cx="611.7" cy="108.8" r="31.1" fill="#8ec8fa"/>
<g clip-path="url(#cY)">
<circle cx="632.4" cy="69.8" r="31.1" fill="#c990d9"/>
<circle cx="611.7" cy="108.8" r="31.1" fill="#8cbde2"/>
</g>
<g clip-path="url(#cP)">
<circle cx="611.7" cy="108.8" r="31.1" fill="#7590f2"/>
</g>
<g clip-path="url(#cY)"><g clip-path="url(#cP)">
<circle cx="611.7" cy="108.8" r="31.1" fill="#7f8fe2"/>
</g></g>
<circle cx="590.7" cy="69.8" r="31.2" fill="none" stroke="#555" stroke-width="0.6"/>
<circle cx="632.4" cy="69.8" r="31.1" fill="none" stroke="#555" stroke-width="0.6"/>
<circle cx="611.7" cy="108.8" r="31.1" fill="none" stroke="#555" stroke-width="0.6"/>
<path d="M604.45 83.43L604.33 83.19L604.21 82.94L604.1 82.7L603.99 82.45L603.88 82.2L603.77 81.95L603.67 81.7L603.56 81.45L603.46 81.2L603.37 80.95L603.27 80.69L603.18 80.44L603.08 80.18L602.99 79.93L602.91 79.67L602.82 79.41L602.74 79.15L602.87 78.98L603.13 78.9L603.39 78.83L603.65 78.76L603.91 78.69L604.18 78.62L604.44 78.56L604.7 78.5L604.97 78.44L605.23 78.38L605.5 78.32L605.77 78.27L606.03 78.22L606.3 78.17L606.57 78.13L606.83 78.08L607.1 78.04L607.37 78L607.64 77.97L607.91 77.93L608.18 77.9L608.45 77.87L608.72 77.84L608.99 77.82L609.26 77.8L609.53 77.78L609.8 77.76L610.07 77.74L610.34 77.73L610.61 77.72L610.89 77.71L611.16 77.7L611.43 77.7L611.7 77.7L611.97 77.7L612.24 77.7L612.51 77.71L612.79 77.72L613.06 77.73L613.33 77.74L613.6 77.76L613.87 77.78L614.14 77.8L614.41 77.82L614.68 77.84L614.95 77.87L615.22 77.9L615.49 77.93L615.76 77.97L616.03 78L616.3 78.04L616.57 78.08L616.83 78.13L617.1 78.17L617.37 78.22L617.63 78.27L617.9 78.32L618.17 78.38L618.43 78.44L618.7 78.5L618.96 78.56L619.22 78.62L619.49 78.69L619.75 78.76L620.01 78.83L620.27 78.9L620.46 79.18L620.37 79.44L620.29 79.7L620.2 79.96L620.11 80.21L620.02 80.47L619.92 80.73L619.83 80.98L619.73 81.23L619.63 81.49L619.53 81.74L619.42 81.99L619.31 82.24L619.2 82.49L619.09 82.74L618.98 82.99L618.86 83.23L618.74 83.48L618.62 83.72L618.5 83.96L618.37 84.21L618.25 84.45L618.12 84.69L617.99 84.93L617.86 85.16L617.72 85.4L617.58 85.64L617.44 85.87L617.3 86.1L617.16 86.33L617.01 86.56L616.87 86.79L616.72 87.02L616.57 87.25L616.41 87.47L616.26 87.7L616.1 87.92L615.94 88.14L615.78 88.36L615.62 88.58L615.45 88.79L615.29 89.01L615.12 89.22L614.95 89.43L614.77 89.65L614.6 89.85L614.42 90.06L614.25 90.27L614.07 90.47L613.89 90.68L613.7 90.88L613.52 91.08L613.33 91.28L613.14 91.47L612.95 91.67L612.76 91.86L612.57 92.05L612.37 92.24L612.18 92.43L611.98 92.62L611.78 92.8L611.59 92.91L611.39 92.73L611.19 92.55L610.99 92.36L610.8 92.17L610.6 91.98L610.41 91.79L610.22 91.6L610.03 91.4L609.84 91.21L609.65 91.01L609.47 90.81L609.29 90.61L609.11 90.41L608.93 90.2L608.75 90L608.58 89.79L608.4 89.58L608.23 89.37L608.06 89.16L607.89 88.95L607.73 88.73L607.56 88.52L607.4 88.3L607.24 88.08L607.08 87.86L606.92 87.64L606.77 87.42L606.62 87.19L606.47 86.97L606.32 86.74L606.17 86.51L606.03 86.28L605.88 86.05L605.74 85.82L605.6 85.58L605.47 85.35L605.33 85.11L605.2 84.88L605.07 84.64L604.94 84.4L604.81 84.16L604.69 83.92L604.57 83.68Z" fill="none" stroke="#ff1010" stroke-width="2.2" stroke-dasharray="0.1 2.9" stroke-linecap="round"/>
<text x="583.2" y="72.1" font-size="8.2" text-anchor="middle" fill="#111">9</text>
<text x="611.6" y="69.4" font-size="8.2" text-anchor="middle" fill="#111">1</text>
<text x="638.9" y="72.1" font-size="8.2" text-anchor="middle" fill="#111">2</text>
<text x="611.6" y="86.3" font-size="8.2" text-anchor="middle" fill="#111">1</text>
<text x="596.3" y="94.5" font-size="8.2" text-anchor="middle" fill="#111">0</text>
<text x="625.7" y="95.9" font-size="8.2" text-anchor="middle" fill="#111">6</text>
<text x="612.3" y="118.2" font-size="8.2" text-anchor="middle" fill="#111">0</text>
<line x1="609.6" y1="90.6" x2="566.6" y2="120.2" stroke="#ff1010" stroke-width="2.7"/>
<path d="M562.4 123.4L564.4 116.4L569.6 122.6Z" fill="#ff1010"/>
<text x="558.2" y="133.1" font-size="8" text-anchor="middle" fill="#ff1010" font-weight="bold" font-style="italic" textLength="18.1" lengthAdjust="spacingAndGlyphs">Bnip3</text>
<path d="M539.6 23.8L542.4 27.8L540.8 27.8L540.8 34.9L538.4 34.9L538.4 27.8L536.8 27.8Z" fill="#a01a0a"/>
<text x="544" y="31.6" font-size="7" fill="#111" textLength="64" lengthAdjust="spacingAndGlyphs">Tumor vs CON (Lung)</text>
<path d="M631.9 22.4L634.7 26.4L633.1 26.4L633.1 33.4L630.7 33.4L630.7 26.4L629.1 26.4Z" fill="#a01a0a"/>
<text x="637.1" y="30.3" font-size="7" fill="#111" textLength="47" lengthAdjust="spacingAndGlyphs">TB vs CON (TA)</text>
<path d="M587.3 156.2L590 152L588.6 152L588.6 146.2L586 146.2L586 152L584.6 152Z" fill="#4a7ad0" stroke="#1e3a80" stroke-width="0.5"/>
<text x="592.7" y="151.6" font-size="7" fill="#111" textLength="55.8" lengthAdjust="spacingAndGlyphs">αCD8a vs IgG (TA)</text>
<line x1="65.45" y1="301.85" x2="43.4" y2="252.1" stroke="#c9c9c9" stroke-width="0.6"/>
<line x1="65.45" y1="301.85" x2="75.6" y2="248.6" stroke="#c9c9c9" stroke-width="0.6"/>
<line x1="65.45" y1="301.85" x2="98.2" y2="260.3" stroke="#c9c9c9" stroke-width="0.6"/>
<line x1="65.45" y1="301.85" x2="24.8" y2="271.5" stroke="#c9c9c9" stroke-width="0.6"/>
<line x1="65.45" y1="301.85" x2="60.9" y2="266.8" stroke="#c9c9c9" stroke-width="0.6"/>
<line x1="65.45" y1="301.85" x2="98.2" y2="284" stroke="#c9c9c9" stroke-width="0.6"/>
<line x1="65.45" y1="301.85" x2="118" y2="293.4" stroke="#c9c9c9" stroke-width="0.6"/>
<line x1="65.45" y1="301.85" x2="24.1" y2="298" stroke="#c9c9c9" stroke-width="0.6"/>
<line x1="65.45" y1="301.85" x2="33.7" y2="319.9" stroke="#c9c9c9" stroke-width="0.6"/>
<line x1="65.45" y1="301.85" x2="109.4" y2="316.3" stroke="#c9c9c9" stroke-width="0.6"/>
<line x1="65.45" y1="301.85" x2="115.6" y2="382.2" stroke="#c9c9c9" stroke-width="0.6"/>
<line x1="115.6" y1="382.2" x2="77.7" y2="341.7" stroke="#c9c9c9" stroke-width="0.6"/>
<line x1="115.6" y1="382.2" x2="101.7" y2="336.5" stroke="#c9c9c9" stroke-width="0.6"/>
<line x1="115.6" y1="382.2" x2="126" y2="341.4" stroke="#c9c9c9" stroke-width="0.6"/>
<line x1="115.6" y1="382.2" x2="149" y2="351.7" stroke="#c9c9c9" stroke-width="0.6"/>
<line x1="115.6" y1="382.2" x2="60" y2="364.2" stroke="#c9c9c9" stroke-width="0.6"/>
<line x1="115.6" y1="382.2" x2="86.6" y2="363.1" stroke="#c9c9c9" stroke-width="0.6"/>
<line x1="115.6" y1="382.2" x2="155.1" y2="374.4" stroke="#c9c9c9" stroke-width="0.6"/>
<line x1="115.6" y1="382.2" x2="71.4" y2="384.1" stroke="#c9c9c9" stroke-width="0.6"/>
<line x1="115.6" y1="382.2" x2="170.4" y2="390.5" stroke="#c9c9c9" stroke-width="0.6"/>
<line x1="115.6" y1="382.2" x2="60.2" y2="403.5" stroke="#c9c9c9" stroke-width="0.6"/>
<line x1="115.6" y1="382.2" x2="89" y2="403.2" stroke="#c9c9c9" stroke-width="0.6"/>
<line x1="115.6" y1="382.2" x2="145.7" y2="401.4" stroke="#c9c9c9" stroke-width="0.6"/>
<line x1="115.6" y1="382.2" x2="161.4" y2="418" stroke="#c9c9c9" stroke-width="0.6"/>
<line x1="115.6" y1="382.2" x2="76.2" y2="423.8" stroke="#c9c9c9" stroke-width="0.6"/>
<line x1="115.6" y1="382.2" x2="115" y2="418.2" stroke="#c9c9c9" stroke-width="0.6"/>
<line x1="115.6" y1="382.2" x2="96" y2="435.4" stroke="#c9c9c9" stroke-width="0.6"/>
<line x1="115.6" y1="382.2" x2="140" y2="430.5" stroke="#c9c9c9" stroke-width="0.6"/>
<line x1="115.6" y1="382.2" x2="119.5" y2="441.8" stroke="#c9c9c9" stroke-width="0.6"/>
<rect x="31.4" y="247.1" width="24" height="10" fill="#f64d2a"/>
<text x="43.4" y="254.83" font-size="7.9" text-anchor="middle" fill="#1a1a1a" textLength="25.6" lengthAdjust="spacingAndGlyphs" stroke="#1a1a1a" stroke-width="0.18">Col18a1</text>
<rect x="63.6" y="243.6" width="24" height="10" fill="#f64d2a"/>
<text x="75.6" y="251.33" font-size="7.9" text-anchor="middle" fill="#1a1a1a" textLength="19.1" lengthAdjust="spacingAndGlyphs" stroke="#1a1a1a" stroke-width="0.18">Foxg1</text>
<rect x="86.2" y="255.3" width="24" height="10" fill="#f64d2a"/>
<text x="98.2" y="263.03" font-size="7.9" text-anchor="middle" fill="#1a1a1a" textLength="19.09" lengthAdjust="spacingAndGlyphs" stroke="#1a1a1a" stroke-width="0.18">Mmp7</text>
<rect x="12.8" y="266.5" width="24" height="10" fill="#f64d2a"/>
<text x="24.8" y="274.23" font-size="7.9" text-anchor="middle" fill="#1a1a1a" textLength="14.13" lengthAdjust="spacingAndGlyphs" stroke="#1a1a1a" stroke-width="0.18">Ctse</text>
<rect x="48.9" y="261.8" width="24" height="10" fill="#f64d2a"/>
<text x="60.9" y="269.53" font-size="7.9" text-anchor="middle" fill="#1a1a1a" textLength="14.13" lengthAdjust="spacingAndGlyphs" stroke="#1a1a1a" stroke-width="0.18">Cstb</text>
<rect x="86.2" y="279" width="24" height="10" fill="#f64d2a"/>
<text x="98.2" y="286.73" font-size="7.9" text-anchor="middle" fill="#1a1a1a" textLength="23.69" lengthAdjust="spacingAndGlyphs" stroke="#1a1a1a" stroke-width="0.18">Hoxa10</text>
<rect x="106" y="288.4" width="24" height="10" fill="#f64d2a"/>
<text x="118" y="296.13" font-size="7.9" text-anchor="middle" fill="#1a1a1a" textLength="21.39" lengthAdjust="spacingAndGlyphs" stroke="#1a1a1a" stroke-width="0.18">Prss16</text>
<rect x="12.1" y="293" width="24" height="10" fill="#f64d2a"/>
<text x="24.1" y="300.73" font-size="7.9" text-anchor="middle" fill="#1a1a1a" textLength="15.66" lengthAdjust="spacingAndGlyphs" stroke="#1a1a1a" stroke-width="0.18">Birc5</text>
<rect x="21.7" y="314.9" width="24" height="10" fill="#f64d2a"/>
<text x="33.7" y="322.63" font-size="7.9" text-anchor="middle" fill="#1a1a1a" textLength="9.93" lengthAdjust="spacingAndGlyphs" stroke="#1a1a1a" stroke-width="0.18">Bid</text>
<rect x="97.4" y="311.3" width="24" height="10" fill="#f64d2a"/>
<text x="109.4" y="319.03" font-size="7.9" text-anchor="middle" fill="#1a1a1a" textLength="22.92" lengthAdjust="spacingAndGlyphs" stroke="#1a1a1a" stroke-width="0.18">Mmp13</text>
<rect x="65.7" y="336.7" width="24" height="10" fill="#f64d2a"/>
<text x="77.7" y="344.43" font-size="7.9" text-anchor="middle" fill="#1a1a1a" textLength="16.04" lengthAdjust="spacingAndGlyphs" stroke="#1a1a1a" stroke-width="0.18">Hif3a</text>
<rect x="89.7" y="331.5" width="24" height="10" fill="#f66a50"/>
<text x="101.7" y="339.23" font-size="7.9" text-anchor="middle" fill="#1a1a1a" textLength="19.49" lengthAdjust="spacingAndGlyphs" stroke="#1a1a1a" stroke-width="0.18">Vdac1</text>
<rect x="114" y="336.4" width="24" height="10" fill="#f64d2a"/>
<text x="126" y="344.13" font-size="7.9" text-anchor="middle" fill="#1a1a1a" textLength="13.37" lengthAdjust="spacingAndGlyphs" stroke="#1a1a1a" stroke-width="0.18">Tpi1</text>
<rect x="137" y="346.7" width="24" height="10" fill="#f5795c"/>
<text x="149" y="354.43" font-size="7.9" text-anchor="middle" fill="#1a1a1a" textLength="21.78" lengthAdjust="spacingAndGlyphs" stroke="#1a1a1a" stroke-width="0.18">Pgam5</text>
<rect x="48" y="359.2" width="24" height="10" fill="#f64d2a"/>
<text x="60" y="366.93" font-size="7.9" text-anchor="middle" fill="#1a1a1a" textLength="14.9" lengthAdjust="spacingAndGlyphs" stroke="#1a1a1a" stroke-width="0.18">Car9</text>
<rect x="74.6" y="358.1" width="24" height="10" fill="#f64d2a"/>
<text x="86.6" y="365.83" font-size="7.9" text-anchor="middle" fill="#1a1a1a" textLength="19.87" lengthAdjust="spacingAndGlyphs" stroke="#1a1a1a" stroke-width="0.18">Casp3</text>
<rect x="143.1" y="369.4" width="24" height="10" fill="#f64d2a"/>
<text x="155.1" y="377.13" font-size="7.9" text-anchor="middle" fill="#1a1a1a" textLength="16.04" lengthAdjust="spacingAndGlyphs" stroke="#1a1a1a" stroke-width="0.18">Ddit4</text>
<rect x="59.4" y="379.1" width="24" height="10" fill="#f64d2a"/>
<text x="71.4" y="386.83" font-size="7.9" text-anchor="middle" fill="#1a1a1a" textLength="11.84" lengthAdjust="spacingAndGlyphs" stroke="#1a1a1a" stroke-width="0.18">Bok</text>
<rect x="158.4" y="385.5" width="24" height="10" fill="#f64d2a"/>
<text x="170.4" y="393.23" font-size="7.9" text-anchor="middle" fill="#1a1a1a" textLength="25.6" lengthAdjust="spacingAndGlyphs" stroke="#1a1a1a" stroke-width="0.18">Ankrd37</text>
<rect x="48.2" y="398.5" width="24" height="10" fill="#f64d2a"/>
<text x="60.2" y="406.23" font-size="7.9" text-anchor="middle" fill="#1a1a1a" textLength="26.35" lengthAdjust="spacingAndGlyphs" stroke="#1a1a1a" stroke-width="0.18">Tomm20</text>
<rect x="77" y="398.2" width="24" height="10" fill="#f6876a"/>
<text x="89" y="405.93" font-size="7.9" text-anchor="middle" fill="#1a1a1a" textLength="11.84" lengthAdjust="spacingAndGlyphs" stroke="#1a1a1a" stroke-width="0.18">Ppif</text>
<rect x="133.7" y="396.4" width="24" height="10" fill="#f64d2a"/>
<text x="145.7" y="404.13" font-size="7.9" text-anchor="middle" fill="#1a1a1a" textLength="16.05" lengthAdjust="spacingAndGlyphs" stroke="#1a1a1a" stroke-width="0.18">Phb2</text>
<rect x="149.4" y="413" width="24" height="10" fill="#f64d2a"/>
<text x="161.4" y="420.73" font-size="7.9" text-anchor="middle" fill="#1a1a1a" textLength="15.29" lengthAdjust="spacingAndGlyphs" stroke="#1a1a1a" stroke-width="0.18">Ldha</text>
<rect x="64.2" y="418.8" width="24" height="10" fill="#f64d2a"/>
<text x="76.2" y="426.53" font-size="7.9" text-anchor="middle" fill="#1a1a1a" textLength="23.3" lengthAdjust="spacingAndGlyphs" stroke="#1a1a1a" stroke-width="0.18">Pmaip1</text>
<rect x="103" y="413.2" width="24" height="10" fill="#f64d2a"/>
<text x="115" y="420.93" font-size="7.9" text-anchor="middle" fill="#1a1a1a" textLength="20.63" lengthAdjust="spacingAndGlyphs" stroke="#1a1a1a" stroke-width="0.18">Gapdh</text>
<rect x="84" y="430.4" width="24" height="10" fill="#f64d2a"/>
<text x="96" y="438.13" font-size="7.9" text-anchor="middle" fill="#1a1a1a" textLength="17.58" lengthAdjust="spacingAndGlyphs" stroke="#1a1a1a" stroke-width="0.18">Egln3</text>
<rect x="128" y="425.5" width="24" height="10" fill="#f64d2a"/>
<text x="140" y="433.23" font-size="7.9" text-anchor="middle" fill="#1a1a1a" textLength="29.04" lengthAdjust="spacingAndGlyphs" stroke="#1a1a1a" stroke-width="0.18">Nipsnap1</text>
<rect x="107.5" y="436.8" width="24" height="10" fill="#f64d2a"/>
<text x="119.5" y="444.53" font-size="7.9" text-anchor="middle" fill="#1a1a1a" textLength="15.67" lengthAdjust="spacingAndGlyphs" stroke="#1a1a1a" stroke-width="0.18">Pgk1</text>
<rect x="53.6" y="296.7" width="23.7" height="10.3" fill="#f7967a"/>
<text x="65.45" y="306.26" font-size="11.9" text-anchor="middle" fill="#111" textLength="17.5" lengthAdjust="spacingAndGlyphs" stroke="#111" stroke-width="0.3">Ctsl</text>
<rect x="103.2" y="377" width="24.8" height="10.4" fill="#f4502d"/>
<text x="115.6" y="386.4" font-size="11.3" text-anchor="middle" fill="#111" textLength="24.5" lengthAdjust="spacingAndGlyphs" stroke="#111" stroke-width="0.3">Bnip3</text>
<defs><linearGradient id="gE" x1="0" y1="0" x2="0" y2="1"><stop offset="0" stop-color="#f2462a"/><stop offset="1" stop-color="#fdf0ec"/></linearGradient><linearGradient id="gG" x1="0" y1="0" x2="0" y2="1"><stop offset="0" stop-color="#f2462a"/><stop offset="0.5" stop-color="#ffffff"/><stop offset="1" stop-color="#4a9dcc"/></linearGradient></defs>
<text x="13" y="360" font-size="6.2" fill="#222" textLength="9.2" lengthAdjust="spacingAndGlyphs">Log</text>
<text x="22.2" y="361.4" font-size="4.2" fill="#222">2</text>
<text x="24.6" y="360" font-size="6.2" fill="#222" textLength="6.8" lengthAdjust="spacingAndGlyphs">FC</text>
<rect x="14" y="363" width="7.2" height="28.2" fill="url(#gE)"/>
<text x="26.2" y="368.4" font-size="6.2" fill="#222">2</text>
<text x="26.2" y="391.8" font-size="6.2" fill="#222">0</text>
<text x="0.5" y="401.2" font-size="6.2" fill="#222" textLength="35" lengthAdjust="spacingAndGlyphs">Tumor vs CON</text>
<text x="238" y="241" font-size="8" text-anchor="middle" textLength="62" lengthAdjust="spacingAndGlyphs">Lung: Tumor vs CON</text>
<line x1="192.3" y1="245.5" x2="192.3" y2="336.6" stroke="#bbb" stroke-width="0.6" stroke-dasharray="0.8 0.8"/>
<line x1="211.5" y1="245.5" x2="211.5" y2="336.6" stroke="#bbb" stroke-width="0.6" stroke-dasharray="0.8 0.8"/>
<line x1="230.7" y1="245.5" x2="230.7" y2="336.6" stroke="#bbb" stroke-width="0.6" stroke-dasharray="0.8 0.8"/>
<line x1="249.9" y1="245.5" x2="249.9" y2="336.6" stroke="#bbb" stroke-width="0.6" stroke-dasharray="0.8 0.8"/>
<line x1="269.1" y1="245.5" x2="269.1" y2="336.6" stroke="#bbb" stroke-width="0.6" stroke-dasharray="0.8 0.8"/>
<line x1="288.3" y1="245.5" x2="288.3" y2="336.6" stroke="#bbb" stroke-width="0.6" stroke-dasharray="0.8 0.8"/>
<line x1="307.5" y1="245.5" x2="307.5" y2="336.6" stroke="#bbb" stroke-width="0.6" stroke-dasharray="0.8 0.8"/>
<rect x="173.1" y="248.7" width="136.13" height="10.3" fill="#fdd0d4"/>
<text x="175.3" y="256" font-size="6.3" fill="#111" textLength="98.14" lengthAdjust="spacingAndGlyphs">Regulation of mitochondrion organization</text>
<rect x="173.1" y="261.1" width="132.29" height="10.3" fill="#fdd0d4"/>
<text x="175.3" y="268.4" font-size="6.3" fill="#111" textLength="153.04" lengthAdjust="spacingAndGlyphs">Mitochondrial membrane permeabilization in programmed death</text>
<rect x="173.1" y="273.5" width="130.94" height="10.3" fill="#fdd0d4"/>
<text x="175.3" y="280.8" font-size="6.3" fill="#111" textLength="114.64" lengthAdjust="spacingAndGlyphs">Generation of precursor metabolites and energy</text>
<rect x="173.1" y="285.9" width="119.42" height="10.3" fill="#fdd0d4"/>
<text x="175.3" y="293.2" font-size="6.3" fill="#111" textLength="123.33" lengthAdjust="spacingAndGlyphs">Regulation of mitochondrial membrane permeability</text>
<rect x="173.1" y="298.3" width="119.42" height="10.3" fill="#fdd0d4"/>
<text x="175.3" y="305.6" font-size="6.3" fill="#111" textLength="66.31" lengthAdjust="spacingAndGlyphs">Pyruvate metabolic process</text>
<rect x="173.1" y="310.7" width="117.31" height="10.3" fill="#fdd0d4"/>
<text x="175.3" y="318" font-size="6.3" fill="#111" textLength="104.12" lengthAdjust="spacingAndGlyphs">Release of cytochrome c from mitochondria</text>
<rect x="173.1" y="323.1" width="114.82" height="10.3" fill="#fdd0d4"/>
<text x="175.3" y="330.4" font-size="6.3" fill="#111" textLength="63.02" lengthAdjust="spacingAndGlyphs">Glucose catabolic process</text>
<line x1="173.6" y1="245.3" x2="173.6" y2="337.2" stroke="#222" stroke-width="1"/>
<line x1="172.6" y1="336.7" x2="307.9" y2="336.7" stroke="#222" stroke-width="1"/>
<line x1="173.1" y1="336.7" x2="173.1" y2="340.4" stroke="#222" stroke-width="0.8"/>
<text x="173.1" y="346.9" font-size="6.4" text-anchor="middle" fill="#222" textLength="3.1" lengthAdjust="spacingAndGlyphs">0</text>
<line x1="192.3" y1="336.7" x2="192.3" y2="340.4" stroke="#222" stroke-width="0.8"/>
<text x="192.3" y="346.9" font-size="6.4" text-anchor="middle" fill="#222" textLength="3.1" lengthAdjust="spacingAndGlyphs">1</text>
<line x1="211.5" y1="336.7" x2="211.5" y2="340.4" stroke="#222" stroke-width="0.8"/>
<text x="211.5" y="346.9" font-size="6.4" text-anchor="middle" fill="#222" textLength="3.1" lengthAdjust="spacingAndGlyphs">2</text>
<line x1="230.7" y1="336.7" x2="230.7" y2="340.4" stroke="#222" stroke-width="0.8"/>
<text x="230.7" y="346.9" font-size="6.4" text-anchor="middle" fill="#222" textLength="3.1" lengthAdjust="spacingAndGlyphs">3</text>
<line x1="249.9" y1="336.7" x2="249.9" y2="340.4" stroke="#222" stroke-width="0.8"/>
<text x="249.9" y="346.9" font-size="6.4" text-anchor="middle" fill="#222" textLength="3.1" lengthAdjust="spacingAndGlyphs">4</text>
<line x1="269.1" y1="336.7" x2="269.1" y2="340.4" stroke="#222" stroke-width="0.8"/>
<text x="269.1" y="346.9" font-size="6.4" text-anchor="middle" fill="#222" textLength="3.1" lengthAdjust="spacingAndGlyphs">5</text>
<line x1="288.3" y1="336.7" x2="288.3" y2="340.4" stroke="#222" stroke-width="0.8"/>
<text x="288.3" y="346.9" font-size="6.4" text-anchor="middle" fill="#222" textLength="3.1" lengthAdjust="spacingAndGlyphs">6</text>
<line x1="307.5" y1="336.7" x2="307.5" y2="340.4" stroke="#222" stroke-width="0.8"/>
<text x="307.5" y="346.9" font-size="6.4" text-anchor="middle" fill="#222" textLength="3.1" lengthAdjust="spacingAndGlyphs">7</text>
<text x="226.2" y="353" font-size="6.6" fill="#222" textLength="11.6" lengthAdjust="spacingAndGlyphs">-Log</text>
<text x="237.8" y="354.6" font-size="4" fill="#222" textLength="3.4" lengthAdjust="spacingAndGlyphs">10</text>
<text x="241.2" y="353" font-size="6.6" fill="#222" textLength="10.6" lengthAdjust="spacingAndGlyphs">FDR</text>
<text x="618" y="236" font-size="8" text-anchor="middle" textLength="58" lengthAdjust="spacingAndGlyphs">Muscle: TB vs CON</text>
<line x1="582" y1="241.2" x2="582" y2="335.1" stroke="#bbb" stroke-width="0.6" stroke-dasharray="0.8 0.8"/>
<line x1="615" y1="241.2" x2="615" y2="335.1" stroke="#bbb" stroke-width="0.6" stroke-dasharray="0.8 0.8"/>
<line x1="648" y1="241.2" x2="648" y2="335.1" stroke="#bbb" stroke-width="0.6" stroke-dasharray="0.8 0.8"/>
<line x1="681" y1="241.2" x2="681" y2="335.1" stroke="#bbb" stroke-width="0.6" stroke-dasharray="0.8 0.8"/>
<rect x="549" y="244.4" width="136" height="10.5" fill="#ccccff"/>
<text x="551" y="251.7" font-size="6.3" fill="#111" textLength="40.22" lengthAdjust="spacingAndGlyphs">Macroautophagy</text>
<rect x="549" y="257.23" width="116.49" height="10.5" fill="#ccccff"/>
<text x="551" y="264.53" font-size="6.3" fill="#111" textLength="58.53" lengthAdjust="spacingAndGlyphs">Regulation of autophagy</text>
<rect x="549" y="270.06" width="94.05" height="10.5" fill="#ccccff"/>
<text x="551" y="277.36" font-size="6.3" fill="#111" textLength="65.11" lengthAdjust="spacingAndGlyphs">Mitochondrion disassembly</text>
<rect x="549" y="282.89" width="94.05" height="10.5" fill="#ccccff"/>
<text x="551" y="290.19" font-size="6.3" fill="#111" textLength="67.23" lengthAdjust="spacingAndGlyphs">Autophagy of mitochondrion</text>
<rect x="549" y="295.72" width="86.79" height="10.5" fill="#ccccff"/>
<text x="551" y="303.02" font-size="6.3" fill="#111" textLength="77.72" lengthAdjust="spacingAndGlyphs">Cellular component disassembly</text>
<rect x="549" y="308.55" width="84.15" height="10.5" fill="#ccccff"/>
<text x="551" y="315.85" font-size="6.3" fill="#111" textLength="54.61" lengthAdjust="spacingAndGlyphs">Organelle disassembly</text>
<rect x="549" y="321.38" width="73.67" height="10.5" fill="#ccccff"/>
<text x="551" y="328.68" font-size="6.3" fill="#111" textLength="64.52" lengthAdjust="spacingAndGlyphs">Response to oxygen levels</text>
<line x1="549.2" y1="241" x2="549.2" y2="335.6" stroke="#999" stroke-width="1.1"/>
<line x1="548.5" y1="335.1" x2="681.6" y2="335.1" stroke="#222" stroke-width="1"/>
<line x1="549" y1="335.1" x2="549" y2="339" stroke="#222" stroke-width="0.8"/>
<text x="549" y="346" font-size="6.4" text-anchor="middle" fill="#222" textLength="3.1" lengthAdjust="spacingAndGlyphs">0</text>
<line x1="582" y1="335.1" x2="582" y2="339" stroke="#222" stroke-width="0.8"/>
<text x="582" y="346" font-size="6.4" text-anchor="middle" fill="#222" textLength="3.1" lengthAdjust="spacingAndGlyphs">4</text>
<line x1="615" y1="335.1" x2="615" y2="339" stroke="#222" stroke-width="0.8"/>
<text x="615" y="346" font-size="6.4" text-anchor="middle" fill="#222" textLength="3.1" lengthAdjust="spacingAndGlyphs">8</text>
<line x1="648" y1="335.1" x2="648" y2="339" stroke="#222" stroke-width="0.8"/>
<text x="648" y="346" font-size="6.4" text-anchor="middle" fill="#222" textLength="6" lengthAdjust="spacingAndGlyphs">12</text>
<line x1="681" y1="335.1" x2="681" y2="339" stroke="#222" stroke-width="0.8"/>
<text x="681" y="346" font-size="6.4" text-anchor="middle" fill="#222" textLength="6" lengthAdjust="spacingAndGlyphs">16</text>
<text x="602.4" y="353.4" font-size="6.6" fill="#222" textLength="11.6" lengthAdjust="spacingAndGlyphs">-Log</text>
<text x="614" y="355" font-size="4" fill="#222" textLength="3.4" lengthAdjust="spacingAndGlyphs">10</text>
<text x="617.4" y="353.4" font-size="6.6" fill="#222" textLength="10.6" lengthAdjust="spacingAndGlyphs">FDR</text>
<line x1="416.9" y1="300.5" x2="390.6" y2="250.45" stroke="#c9c9c9" stroke-width="0.6"/>
<line x1="416.9" y1="300.5" x2="430.5" y2="245.55" stroke="#c9c9c9" stroke-width="0.6"/>
<line x1="416.9" y1="300.5" x2="364.7" y2="282.15" stroke="#c9c9c9" stroke-width="0.6"/>
<line x1="416.9" y1="300.5" x2="466.1" y2="299.15" stroke="#c9c9c9" stroke-width="0.6"/>
<line x1="457.6" y1="369.8" x2="466.1" y2="299.15" stroke="#c9c9c9" stroke-width="0.6"/>
<line x1="457.6" y1="369.8" x2="445.5" y2="316.15" stroke="#c9c9c9" stroke-width="0.6"/>
<line x1="457.6" y1="369.8" x2="500.7" y2="315.55" stroke="#c9c9c9" stroke-width="0.6"/>
<line x1="416.9" y1="300.5" x2="406.1" y2="329.35" stroke="#c9c9c9" stroke-width="0.6"/>
<line x1="457.6" y1="369.8" x2="406.1" y2="329.35" stroke="#c9c9c9" stroke-width="0.6"/>
<line x1="416.9" y1="300.5" x2="442.9" y2="333.15" stroke="#c9c9c9" stroke-width="0.6"/>
<line x1="457.6" y1="369.8" x2="442.9" y2="333.15" stroke="#c9c9c9" stroke-width="0.6"/>
<line x1="457.6" y1="369.8" x2="480.3" y2="330.55" stroke="#c9c9c9" stroke-width="0.6"/>
<line x1="457.6" y1="369.8" x2="501.7" y2="348.15" stroke="#c9c9c9" stroke-width="0.6"/>
<line x1="457.6" y1="369.8" x2="397.2" y2="351.15" stroke="#c9c9c9" stroke-width="0.6"/>
<line x1="416.9" y1="300.5" x2="423.1" y2="349.15" stroke="#c9c9c9" stroke-width="0.6"/>
<line x1="457.6" y1="369.8" x2="423.1" y2="349.15" stroke="#c9c9c9" stroke-width="0.6"/>
<line x1="457.6" y1="369.8" x2="531.7" y2="355.35" stroke="#c9c9c9" stroke-width="0.6"/>
<line x1="457.6" y1="369.8" x2="392.6" y2="381.55" stroke="#c9c9c9" stroke-width="0.6"/>
<line x1="457.6" y1="369.8" x2="535.3" y2="378.15" stroke="#c9c9c9" stroke-width="0.6"/>
<line x1="457.6" y1="369.8" x2="500.9" y2="381.15" stroke="#c9c9c9" stroke-width="0.6"/>
<line x1="457.6" y1="369.8" x2="420.7" y2="393.85" stroke="#c9c9c9" stroke-width="0.6"/>
<line x1="457.6" y1="369.8" x2="403.3" y2="412.95" stroke="#c9c9c9" stroke-width="0.6"/>
<line x1="457.6" y1="369.8" x2="448.9" y2="415.15" stroke="#c9c9c9" stroke-width="0.6"/>
<line x1="457.6" y1="369.8" x2="481.1" y2="407.95" stroke="#c9c9c9" stroke-width="0.6"/>
<line x1="457.6" y1="369.8" x2="510.3" y2="412.55" stroke="#c9c9c9" stroke-width="0.6"/>
<line x1="457.6" y1="369.8" x2="426.3" y2="431.15" stroke="#c9c9c9" stroke-width="0.6"/>
<line x1="457.6" y1="369.8" x2="486.3" y2="434.15" stroke="#c9c9c9" stroke-width="0.6"/>
<line x1="457.6" y1="369.8" x2="457.5" y2="440.15" stroke="#c9c9c9" stroke-width="0.6"/>
<line x1="416.9" y1="300.5" x2="457.6" y2="369.8" stroke="#c9c9c9" stroke-width="0.6"/>
<rect x="376.5" y="243.9" width="28.2" height="13.1" fill="#fff" stroke="#ececec" stroke-width="0.6"/>
<rect x="378.3" y="245.3" width="12.3" height="10.3" fill="#f6907c"/>
<rect x="390.6" y="245.3" width="12.3" height="10.3" fill="#8cc4e2"/>
<text x="390.6" y="253.35" font-size="8.4" text-anchor="middle" fill="#1a1a1a" textLength="16.23" lengthAdjust="spacingAndGlyphs" stroke="#1a1a1a" stroke-width="0.18">Ctsd</text>
<rect x="416.4" y="239" width="28.2" height="13.1" fill="#fff" stroke="#ececec" stroke-width="0.6"/>
<rect x="418.2" y="240.4" width="12.3" height="10.3" fill="#f2522e"/>
<rect x="430.5" y="240.4" width="12.3" height="10.3" fill="#4a9dcc"/>
<text x="430.5" y="248.45" font-size="8.4" text-anchor="middle" fill="#1a1a1a" textLength="18.43" lengthAdjust="spacingAndGlyphs" stroke="#1a1a1a" stroke-width="0.18">Npc1</text>
<rect x="350.6" y="275.6" width="28.2" height="13.1" fill="#fff" stroke="#ececec" stroke-width="0.6"/>
<rect x="352.4" y="277" width="12.3" height="10.3" fill="#f27a5e"/>
<rect x="364.7" y="277" width="12.3" height="10.3" fill="#5aaad6"/>
<text x="364.7" y="285.05" font-size="8.4" text-anchor="middle" fill="#1a1a1a" textLength="17.99" lengthAdjust="spacingAndGlyphs" stroke="#1a1a1a" stroke-width="0.18">Furin</text>
<rect x="452" y="292.6" width="28.2" height="13.1" fill="#fff" stroke="#ececec" stroke-width="0.6"/>
<rect x="453.8" y="294" width="12.3" height="10.3" fill="#f2522e"/>
<rect x="466.1" y="294" width="12.3" height="10.3" fill="#8cc4e2"/>
<text x="466.1" y="302.05" font-size="8.4" text-anchor="middle" fill="#1a1a1a" textLength="21.51" lengthAdjust="spacingAndGlyphs" stroke="#1a1a1a" stroke-width="0.18">Bcl2l1</text>
<rect x="431.4" y="309.6" width="28.2" height="13.1" fill="#fff" stroke="#ececec" stroke-width="0.6"/>
<rect x="433.2" y="311" width="12.3" height="10.3" fill="#f2522e"/>
<rect x="445.5" y="311" width="12.3" height="10.3" fill="#8cc4e2"/>
<text x="445.5" y="319.05" font-size="8.4" text-anchor="middle" fill="#1a1a1a" textLength="18.43" lengthAdjust="spacingAndGlyphs" stroke="#1a1a1a" stroke-width="0.18">Ddit4</text>
<rect x="486.6" y="309" width="28.2" height="13.1" fill="#fff" stroke="#ececec" stroke-width="0.6"/>
<rect x="488.4" y="310.4" width="12.3" height="10.3" fill="#f2522e"/>
<rect x="500.7" y="310.4" width="12.3" height="10.3" fill="#4a9dcc"/>
<text x="500.7" y="318.45" font-size="8.4" text-anchor="middle" fill="#1a1a1a" textLength="39.4" lengthAdjust="spacingAndGlyphs" stroke="#1a1a1a" stroke-width="0.18">Gabarapl1</text>
<rect x="392" y="322.8" width="28.2" height="13.1" fill="#fff" stroke="#ececec" stroke-width="0.6"/>
<rect x="393.8" y="324.2" width="12.3" height="10.3" fill="#f6907c"/>
<rect x="406.1" y="324.2" width="12.3" height="10.3" fill="#8cc4e2"/>
<text x="406.1" y="332.25" font-size="8.4" text-anchor="middle" fill="#1a1a1a" textLength="16.23" lengthAdjust="spacingAndGlyphs" stroke="#1a1a1a" stroke-width="0.18">Prkn</text>
<rect x="428.8" y="326.6" width="28.2" height="13.1" fill="#fff" stroke="#ececec" stroke-width="0.6"/>
<rect x="430.6" y="328" width="12.3" height="10.3" fill="#f2522e"/>
<rect x="442.9" y="328" width="12.3" height="10.3" fill="#4a9dcc"/>
<text x="442.9" y="336.05" font-size="8.4" text-anchor="middle" fill="#1a1a1a" textLength="15.8" lengthAdjust="spacingAndGlyphs" stroke="#1a1a1a" stroke-width="0.18">Akt1</text>
<rect x="466.2" y="324" width="28.2" height="13.1" fill="#fff" stroke="#ececec" stroke-width="0.6"/>
<rect x="468" y="325.4" width="12.3" height="10.3" fill="#f6907c"/>
<rect x="480.3" y="325.4" width="12.3" height="10.3" fill="#8cc4e2"/>
<text x="480.3" y="333.45" font-size="8.4" text-anchor="middle" fill="#1a1a1a" textLength="17.11" lengthAdjust="spacingAndGlyphs" stroke="#1a1a1a" stroke-width="0.18">Nbr1</text>
<rect x="487.6" y="341.6" width="28.2" height="13.1" fill="#fff" stroke="#ececec" stroke-width="0.6"/>
<rect x="489.4" y="343" width="12.3" height="10.3" fill="#f6907c"/>
<rect x="501.7" y="343" width="12.3" height="10.3" fill="#8cc4e2"/>
<text x="501.7" y="351.05" font-size="8.4" text-anchor="middle" fill="#1a1a1a" textLength="15.79" lengthAdjust="spacingAndGlyphs" stroke="#1a1a1a" stroke-width="0.18">Mtor</text>
<rect x="383.1" y="344.6" width="28.2" height="13.1" fill="#fff" stroke="#ececec" stroke-width="0.6"/>
<rect x="384.9" y="346" width="12.3" height="10.3" fill="#f2522e"/>
<rect x="397.2" y="346" width="12.3" height="10.3" fill="#4a9dcc"/>
<text x="397.2" y="354.05" font-size="8.4" text-anchor="middle" fill="#1a1a1a" textLength="26.33" lengthAdjust="spacingAndGlyphs" stroke="#1a1a1a" stroke-width="0.18">Fbxo32</text>
<rect x="409" y="342.6" width="28.2" height="13.1" fill="#fff" stroke="#ececec" stroke-width="0.6"/>
<rect x="410.8" y="344" width="12.3" height="10.3" fill="#f2522e"/>
<rect x="423.1" y="344" width="12.3" height="10.3" fill="#8cc4e2"/>
<text x="423.1" y="352.05" font-size="8.4" text-anchor="middle" fill="#1a1a1a" textLength="21.94" lengthAdjust="spacingAndGlyphs" stroke="#1a1a1a" stroke-width="0.18">Foxo1</text>
<rect x="517.6" y="348.8" width="28.2" height="13.1" fill="#fff" stroke="#ececec" stroke-width="0.6"/>
<rect x="519.4" y="350.2" width="12.3" height="10.3" fill="#f2522e"/>
<rect x="531.7" y="350.2" width="12.3" height="10.3" fill="#4a9dcc"/>
<text x="531.7" y="358.25" font-size="8.4" text-anchor="middle" fill="#1a1a1a" textLength="21.94" lengthAdjust="spacingAndGlyphs" stroke="#1a1a1a" stroke-width="0.18">Foxo3</text>
<rect x="378.5" y="375" width="28.2" height="13.1" fill="#fff" stroke="#ececec" stroke-width="0.6"/>
<rect x="380.3" y="376.4" width="12.3" height="10.3" fill="#f2522e"/>
<rect x="392.6" y="376.4" width="12.3" height="10.3" fill="#4a9dcc"/>
<text x="392.6" y="384.45" font-size="8.4" text-anchor="middle" fill="#1a1a1a" textLength="26.77" lengthAdjust="spacingAndGlyphs" stroke="#1a1a1a" stroke-width="0.18">Sqstm1</text>
<rect x="521.2" y="371.6" width="28.2" height="13.1" fill="#fff" stroke="#ececec" stroke-width="0.6"/>
<rect x="523" y="373" width="12.3" height="10.3" fill="#f2522e"/>
<rect x="535.3" y="373" width="12.3" height="10.3" fill="#4a9dcc"/>
<text x="535.3" y="381.05" font-size="8.4" text-anchor="middle" fill="#1a1a1a" textLength="36.5" lengthAdjust="spacingAndGlyphs" stroke="#1a1a1a" stroke-width="0.18">Map1lc3b</text>
<rect x="486.8" y="374.6" width="28.2" height="13.1" fill="#fff" stroke="#ececec" stroke-width="0.6"/>
<rect x="488.6" y="376" width="12.3" height="10.3" fill="#f6907c"/>
<rect x="500.9" y="376" width="12.3" height="10.3" fill="#8cc4e2"/>
<text x="500.9" y="384.05" font-size="8.4" text-anchor="middle" fill="#1a1a1a" textLength="21.06" lengthAdjust="spacingAndGlyphs" stroke="#1a1a1a" stroke-width="0.18">Uvrag</text>
<rect x="406.6" y="387.3" width="28.2" height="13.1" fill="#fff" stroke="#ececec" stroke-width="0.6"/>
<rect x="408.4" y="388.7" width="12.3" height="10.3" fill="#f56a48"/>
<rect x="420.7" y="388.7" width="12.3" height="10.3" fill="#8cc4e2"/>
<text x="420.7" y="396.75" font-size="8.4" text-anchor="middle" fill="#1a1a1a" textLength="14.48" lengthAdjust="spacingAndGlyphs" stroke="#1a1a1a" stroke-width="0.18">Arnt</text>
<rect x="389.2" y="406.4" width="28.2" height="13.1" fill="#fff" stroke="#ececec" stroke-width="0.6"/>
<rect x="391" y="407.8" width="12.3" height="10.3" fill="#f6907c"/>
<rect x="403.3" y="407.8" width="12.3" height="10.3" fill="#8cc4e2"/>
<text x="403.3" y="415.85" font-size="8.4" text-anchor="middle" fill="#1a1a1a" textLength="24.14" lengthAdjust="spacingAndGlyphs" stroke="#1a1a1a" stroke-width="0.18">Map1b</text>
<rect x="434.8" y="408.6" width="28.2" height="13.1" fill="#fff" stroke="#ececec" stroke-width="0.6"/>
<rect x="436.6" y="410" width="12.3" height="10.3" fill="#f46a4a"/>
<rect x="448.9" y="410" width="12.3" height="10.3" fill="#8cc4e2"/>
<text x="448.9" y="418.05" font-size="8.4" text-anchor="middle" fill="#1a1a1a" textLength="21.95" lengthAdjust="spacingAndGlyphs" stroke="#1a1a1a" stroke-width="0.18">Bnip3l</text>
<rect x="467" y="401.4" width="28.2" height="13.1" fill="#fff" stroke="#ececec" stroke-width="0.6"/>
<rect x="468.8" y="402.8" width="12.3" height="10.3" fill="#f2522e"/>
<rect x="481.1" y="402.8" width="12.3" height="10.3" fill="#4a9dcc"/>
<text x="481.1" y="410.85" font-size="8.4" text-anchor="middle" fill="#1a1a1a" textLength="20.19" lengthAdjust="spacingAndGlyphs" stroke="#1a1a1a" stroke-width="0.18">Egln3</text>
<rect x="496.2" y="406" width="28.2" height="13.1" fill="#fff" stroke="#ececec" stroke-width="0.6"/>
<rect x="498" y="407.4" width="12.3" height="10.3" fill="#f6907c"/>
<rect x="510.3" y="407.4" width="12.3" height="10.3" fill="#8cc4e2"/>
<text x="510.3" y="415.45" font-size="8.4" text-anchor="middle" fill="#1a1a1a" textLength="26.77" lengthAdjust="spacingAndGlyphs" stroke="#1a1a1a" stroke-width="0.18">Rb1cc1</text>
<rect x="412.2" y="424.6" width="28.2" height="13.1" fill="#fff" stroke="#ececec" stroke-width="0.6"/>
<rect x="414" y="426" width="12.3" height="10.3" fill="#f6907c"/>
<rect x="426.3" y="426" width="12.3" height="10.3" fill="#4a9dcc"/>
<text x="426.3" y="434.05" font-size="8.4" text-anchor="middle" fill="#1a1a1a" textLength="18.43" lengthAdjust="spacingAndGlyphs" stroke="#1a1a1a" stroke-width="0.18">Hif3a</text>
<rect x="472.2" y="427.6" width="28.2" height="13.1" fill="#fff" stroke="#ececec" stroke-width="0.6"/>
<rect x="474" y="429" width="12.3" height="10.3" fill="#f6907c"/>
<rect x="486.3" y="429" width="12.3" height="10.3" fill="#8cc4e2"/>
<text x="486.3" y="437.05" font-size="8.4" text-anchor="middle" fill="#1a1a1a" textLength="18.88" lengthAdjust="spacingAndGlyphs" stroke="#1a1a1a" stroke-width="0.18">Rheb</text>
<rect x="443.4" y="433.6" width="28.2" height="13.1" fill="#fff" stroke="#ececec" stroke-width="0.6"/>
<rect x="445.2" y="435" width="12.3" height="10.3" fill="#f6907c"/>
<rect x="457.5" y="435" width="12.3" height="10.3" fill="#8cc4e2"/>
<text x="457.5" y="443.05" font-size="8.4" text-anchor="middle" fill="#1a1a1a" textLength="19.74" lengthAdjust="spacingAndGlyphs" stroke="#1a1a1a" stroke-width="0.18">Wipi1</text>
<rect x="402.8" y="293.8" width="28.2" height="13.4" fill="#fff" stroke="#ececec" stroke-width="0.6"/>
<rect x="404.6" y="295.2" width="12.3" height="10.6" fill="#f2522e"/>
<rect x="416.9" y="295.2" width="12.3" height="10.6" fill="#4a9dcc"/>
<text x="416.9" y="304.47" font-size="11.5" text-anchor="middle" fill="#111" textLength="18.6" lengthAdjust="spacingAndGlyphs" stroke="#111" stroke-width="0.3">Ctsl</text>
<rect x="442.5" y="363.2" width="30.2" height="13.2" fill="#fff" stroke="#ececec" stroke-width="0.6"/>
<rect x="444.3" y="364.6" width="13.3" height="10.4" fill="#f2522e"/>
<rect x="457.6" y="364.6" width="13.3" height="10.4" fill="#4a9dcc"/>
<text x="457.6" y="373.6" font-size="11" text-anchor="middle" fill="#111" textLength="26.7" lengthAdjust="spacingAndGlyphs" stroke="#111" stroke-width="0.3">Bnip3</text>
<text x="354" y="344" font-size="6.2" fill="#222" textLength="9.2" lengthAdjust="spacingAndGlyphs">Log</text>
<text x="363.2" y="345.4" font-size="4.2" fill="#222">2</text>
<text x="365.6" y="344" font-size="6.2" fill="#222" textLength="6.8" lengthAdjust="spacingAndGlyphs">FC</text>
<rect x="357.4" y="347.6" width="5.8" height="31.9" fill="url(#gG)"/>
<text x="367.8" y="352.2" font-size="6.2" fill="#222">2</text>
<text x="367.8" y="365.8" font-size="6.2" fill="#222">0</text>
<text x="366" y="379.8" font-size="6.2" fill="#222">-2</text>
<text x="354" y="388.4" font-size="6.2" fill="#222" textLength="16.5" lengthAdjust="spacingAndGlyphs">Muscle</text>
<rect x="351.6" y="390.3" width="10.8" height="9" fill="#fff" stroke="#999" stroke-width="0.6"/>
<rect x="362.4" y="390.3" width="10.4" height="9" fill="#fff" stroke="#999" stroke-width="0.6"/>
<text x="359.4" y="401.3" font-size="6" text-anchor="end" fill="#222" textLength="27.6" lengthAdjust="spacingAndGlyphs" transform="rotate(-90 359.4 401.3)">TB vs CON</text>
<text x="371" y="401.3" font-size="6" text-anchor="end" fill="#222" textLength="34.3" lengthAdjust="spacingAndGlyphs" transform="rotate(-90 371 401.3)">αCD8a vs IgG</text>
</svg>
</body></html>
